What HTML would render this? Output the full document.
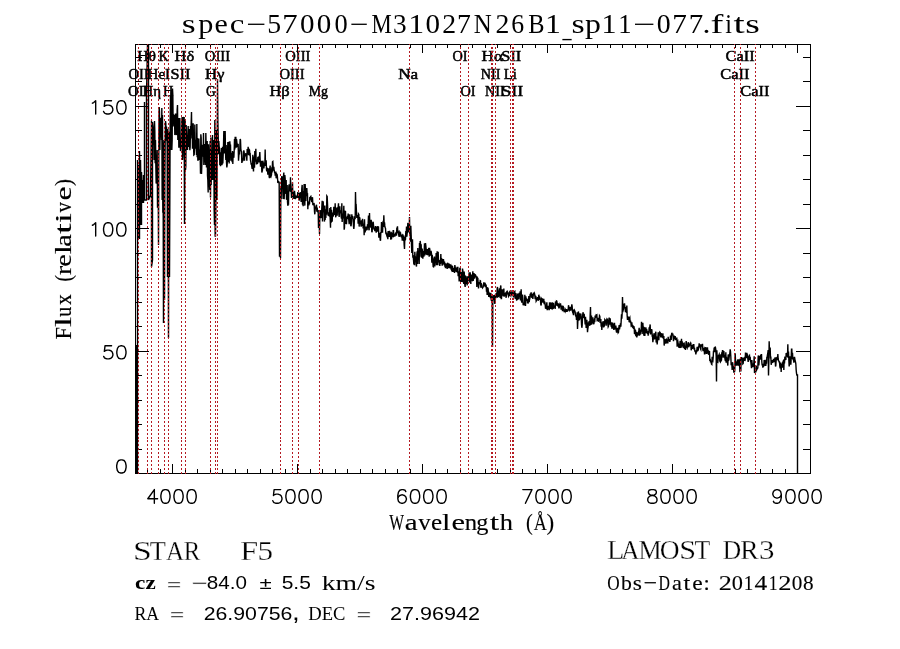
<!DOCTYPE html>
<html><head><meta charset="utf-8"><style>
html,body{margin:0;padding:0;background:#fff;width:900px;height:649px;overflow:hidden;position:relative}
</style></head><body>
<svg width="900" height="649" viewBox="0 0 900 649" style="position:absolute;left:0;top:0;will-change:transform">
<polyline points="136.50,473.0 136.50,345.0 137.50,473.0 137.50,160.0 138.50,239.0 138.50,165.0 139.50,239.0 139.50,151.0 140.50,225.0 140.50,160.0 141.50,225.0 141.50,172.0 142.50,203.0 142.50,180.0 143.50,203.0 143.50,175.0 144.50,190.0 144.50,101.9 144.50,200.0 146.50,200.0 146.50,95.0 147.50,45.0 148.50,45.0 148.50,200.0 150.50,195.0 151.50,120.5 151.50,267.0 152.50,260.0 152.50,122.0 153.17,128.0 153.50,145.0 153.83,135.8 154.17,160.0 154.50,121.0 154.83,131.3 155.17,163.2 155.50,140.0 155.83,165.0 156.17,183.6 156.50,182.8 156.83,178.5 157.17,150.0 157.50,207.0 157.83,207.0 158.17,180.0 158.50,245.0 158.83,145.5 159.17,107.0 159.50,111.8 159.83,150.0 160.17,125.0 160.50,133.7 160.83,117.7 161.17,126.3 161.50,140.0 161.83,108.0 162.17,200.0 162.50,115.0 162.83,212.8 163.17,200.0 163.50,323.0 163.83,146.6 164.17,140.0 164.50,300.0 164.83,181.1 165.17,142.0 165.50,121.0 165.83,123.6 166.17,140.7 166.50,126.6 166.83,132.3 167.17,145.0 167.50,277.0 167.83,129.1 168.17,200.0 168.50,338.0 168.83,141.2 169.17,131.8 169.50,277.0 169.83,200.0 170.17,122.6 170.50,96.0 170.83,150.0 171.17,94.0 171.50,90.0 171.83,150.0 172.17,140.0 172.50,88.5 172.83,95.0 173.17,126.4 173.50,116.9 173.83,116.0 174.17,117.0 174.50,114.7 174.83,135.0 175.17,134.1 175.50,114.3 175.83,114.3 176.17,117.0 176.50,135.0 176.83,134.1 177.17,110.0 177.50,105.0 177.83,140.0 178.17,122.6 178.50,118.0 178.83,147.0 179.17,147.0 179.50,139.5 179.83,118.0 180.17,140.1 180.50,151.1 180.83,146.3 181.17,147.0 181.50,143.2 181.83,120.0 182.17,117.0 182.50,160.0 182.83,155.8 183.17,117.0 183.50,117.7 183.83,150.0 184.17,117.0 184.50,224.0 184.83,170.0 185.17,120.0 185.50,170.0 185.83,166.1 186.17,125.0 186.50,141.6 186.83,150.0 187.17,140.6 187.50,149.9 187.83,134.0 188.17,126.0 188.50,147.0 188.83,139.3 189.17,129.0 189.50,143.2 189.83,150.2 190.17,147.0 190.50,126.0 190.83,131.3 191.17,123.4 191.50,112.0 191.83,138.5 192.17,127.8 192.50,148.8 192.83,124.0 193.17,124.0 193.50,143.8 193.83,155.0 194.17,154.7 194.50,149.3 194.83,124.5 195.17,143.1 195.50,148.6 195.83,139.8 196.17,143.5 196.50,155.0 196.83,124.0 197.17,157.2 197.50,138.0 197.83,160.0 198.17,160.0 198.50,147.3 198.83,138.5 199.17,148.8 199.50,160.0 199.83,149.6 200.17,155.4 200.50,173.7 200.83,134.2 201.17,138.0 201.50,174.0 201.83,165.0 202.17,153.6 202.50,144.7 202.83,156.4 203.17,155.5 203.50,133.0 203.83,165.0 204.17,159.5 204.50,144.1 204.83,145.8 205.17,144.9 205.50,165.0 205.83,133.0 206.17,146.2 206.50,167.6 206.83,145.8 207.17,141.0 207.50,175.4 207.83,180.0 208.17,192.6 208.50,144.2 208.83,153.7 209.17,150.0 209.50,185.0 209.83,190.0 210.17,141.0 210.50,197.5 210.83,137.5 211.17,185.0 211.50,150.0 211.83,163.7 212.17,180.0 212.50,135.0 212.83,162.5 213.17,180.0 213.50,167.2 213.83,140.0 214.17,210.0 214.50,225.0 214.83,120.0 215.17,236.0 215.50,236.0 215.83,214.6 216.17,130.0 216.50,168.6 216.83,200.0 217.17,155.0 217.50,79.0 217.83,120.0 218.17,134.7 218.50,154.2 218.83,141.1 219.17,146.6 219.50,148.0 219.83,165.0 220.17,163.1 220.50,166.3 220.83,152.3 221.17,155.4 221.50,148.0 221.83,165.0 222.17,163.7 222.50,146.8 222.83,163.5 223.17,155.0 223.50,145.7 223.83,131.0 224.17,153.5 224.50,145.1 224.83,137.1 225.17,131.0 225.50,151.8 225.83,160.0 226.17,145.0 226.50,162.1 226.83,167.4 227.17,165.0 227.50,156.1 227.83,142.0 228.17,162.0 228.50,155.2 228.83,141.8 229.17,163.6 229.50,153.7 229.83,141.2 230.17,146.6 230.50,144.5 230.83,160.7 231.17,158.7 231.50,152.9 231.83,155.0 232.17,162.1 232.50,151.0 232.83,164.0 233.17,151.8 233.50,156.2 233.83,157.8 234.17,151.0 234.50,139.0 234.83,149.4 235.17,137.5 235.50,137.5 235.83,137.5 236.17,147.8 236.50,139.0 236.83,142.1 237.17,146.2 237.50,147.1 237.83,144.3 238.17,144.5 238.50,160.7 238.83,156.1 239.17,151.5 239.50,154.5 239.83,148.6 240.17,139.0 240.50,139.8 240.83,148.8 241.17,151.0 241.50,151.5 241.83,162.9 242.17,161.7 242.50,158.3 242.83,161.2 243.17,158.3 243.50,152.0 243.83,150.3 244.17,152.0 244.50,160.7 244.83,154.8 245.17,154.5 245.50,154.4 245.83,153.3 246.17,156.5 246.50,155.3 246.83,160.7 247.17,148.9 247.50,153.3 247.83,151.4 248.17,146.7 248.50,155.3 248.83,150.3 249.17,149.6 249.50,150.1 249.83,154.5 250.17,154.2 250.50,160.2 250.83,161.8 251.17,164.7 251.50,163.1 251.83,166.9 252.17,168.9 252.50,167.1 252.83,154.8 253.17,167.4 253.50,171.5 253.83,157.5 254.17,156.5 254.50,167.8 254.83,151.1 255.17,155.7 255.50,161.8 255.83,148.8 256.17,160.5 256.50,164.4 256.83,159.5 257.17,162.7 257.50,164.0 257.83,157.5 258.17,157.3 258.50,159.2 258.83,161.8 259.17,161.8 259.50,156.3 259.83,152.0 260.17,159.7 260.50,166.6 260.83,164.7 261.17,162.6 261.50,160.7 261.83,172.6 262.17,171.4 262.50,170.0 262.83,160.7 263.17,162.9 263.50,167.1 263.83,168.3 264.17,165.9 264.50,162.6 264.83,164.5 265.17,149.4 265.50,166.0 265.83,161.5 266.17,160.3 266.50,169.8 266.83,171.4 267.17,168.3 267.50,168.7 267.83,174.7 268.17,172.5 268.50,170.8 268.83,168.4 269.17,176.9 269.50,178.2 269.83,168.3 270.17,165.5 270.50,176.6 270.83,177.0 271.17,175.8 271.50,174.9 271.83,167.2 272.17,172.6 272.50,161.8 272.83,161.5 273.17,167.6 273.50,170.7 273.83,166.9 274.17,170.5 274.50,172.3 274.83,172.7 275.17,174.7 275.50,174.3 275.83,171.5 276.17,178.2 276.50,177.0 276.83,174.2 277.17,174.7 277.50,177.9 277.83,183.0 278.17,182.2 278.50,181.8 278.83,182.6 279.17,182.5 279.50,256.8 279.83,190.0 280.17,196.3 280.50,258.3 280.83,186.7 281.17,199.0 281.50,178.9 281.83,176.0 282.17,183.6 282.50,176.7 282.83,191.9 283.17,199.0 283.50,176.0 283.83,172.6 284.17,199.3 284.50,187.9 284.83,175.0 285.17,178.6 285.50,190.6 285.83,194.0 286.17,180.0 286.50,199.0 286.83,199.2 287.17,185.0 287.50,201.9 287.83,205.8 288.17,203.1 288.50,203.4 288.83,186.0 289.17,184.4 289.50,191.4 289.83,186.1 290.17,191.5 290.50,177.3 290.83,192.0 291.17,188.6 291.50,197.2 291.83,197.2 292.17,191.1 292.50,182.2 292.83,197.0 293.17,192.1 293.50,196.4 293.83,198.2 294.17,198.2 294.50,190.8 294.83,194.1 295.17,195.5 295.50,198.3 295.83,198.0 296.17,195.5 296.50,197.1 296.83,196.7 297.17,197.0 297.50,195.0 297.83,192.0 298.17,197.9 298.50,193.8 298.83,193.8 299.17,200.7 299.50,195.8 299.83,195.9 300.17,192.2 300.50,193.3 300.83,198.0 301.17,201.9 301.50,196.0 301.83,188.4 302.17,184.9 302.50,204.8 302.83,201.6 303.17,206.2 303.50,191.1 303.83,192.3 304.17,184.0 304.50,198.2 304.83,205.6 305.17,184.0 305.50,192.5 305.83,201.1 306.17,188.6 306.50,188.6 306.83,188.6 307.17,194.8 307.50,194.5 307.83,209.3 308.17,201.6 308.50,204.2 308.83,205.3 309.17,203.2 309.50,204.1 309.83,197.0 310.17,198.3 310.50,196.9 310.83,196.5 311.17,199.5 311.50,200.5 311.83,202.2 312.17,198.2 312.50,197.3 312.83,204.4 313.17,204.3 313.50,204.0 313.83,204.8 314.17,204.4 314.50,211.4 314.83,214.3 315.17,209.3 315.50,206.6 315.83,207.7 316.17,205.6 316.50,204.8 316.83,211.8 317.17,207.6 317.50,210.9 317.83,211.8 318.17,210.0 318.50,228.0 318.83,216.0 319.17,214.8 319.50,234.0 319.83,214.3 320.17,210.0 320.50,212.6 320.83,218.0 321.17,217.2 321.50,215.8 321.83,207.5 322.17,200.7 322.50,221.6 322.83,201.9 323.17,201.2 323.50,208.2 323.83,207.3 324.17,212.9 324.50,221.6 324.83,205.6 325.17,220.0 325.50,210.6 325.83,217.9 326.17,209.2 326.50,214.8 326.83,195.9 327.17,196.4 327.50,203.3 327.83,211.8 328.17,215.6 328.50,212.3 328.83,215.6 329.17,215.8 329.50,215.5 329.83,208.1 330.17,218.4 330.50,227.8 330.83,206.9 331.17,222.7 331.50,209.8 331.83,215.8 332.17,221.7 332.50,214.6 332.83,213.8 333.17,216.7 333.50,213.5 333.83,206.9 334.17,210.7 334.50,213.5 334.83,214.9 335.17,203.2 335.50,215.5 335.83,217.3 336.17,211.5 336.50,211.3 336.83,207.5 337.17,215.7 337.50,207.3 337.83,211.9 338.17,207.2 338.50,203.2 338.83,214.3 339.17,217.0 339.50,211.5 339.83,206.2 340.17,213.2 340.50,210.4 340.83,211.5 341.17,216.7 341.50,218.7 341.83,203.2 342.17,222.0 342.50,215.4 342.83,218.5 343.17,213.6 343.50,215.1 343.83,205.8 344.17,229.7 344.50,227.8 344.83,210.6 345.17,211.8 345.50,211.8 345.83,223.9 346.17,219.6 346.50,224.1 346.83,216.7 347.17,219.2 347.50,215.8 347.83,218.8 348.17,213.6 348.50,217.5 348.83,220.2 349.17,224.1 349.50,218.9 349.83,214.3 350.17,219.0 350.50,217.1 350.83,226.2 351.17,225.4 351.50,221.1 351.83,214.3 352.17,217.8 352.50,216.1 352.83,218.4 353.17,219.2 353.50,226.5 353.83,229.0 354.17,225.7 354.50,216.3 354.83,217.4 355.17,219.2 355.50,192.0 355.83,206.0 356.17,205.6 356.50,212.5 356.83,218.0 357.17,215.2 357.50,217.4 357.83,216.5 358.17,223.6 358.50,214.0 358.83,214.5 359.17,226.6 359.50,217.8 359.83,218.0 360.17,223.7 360.50,221.1 360.83,224.5 361.17,226.6 361.50,220.4 361.83,225.4 362.17,225.4 362.50,218.7 362.83,223.0 363.17,228.5 363.50,223.7 363.83,225.0 364.17,235.2 364.50,219.2 364.83,230.4 365.17,232.4 365.50,227.2 365.83,227.9 366.17,226.6 366.50,229.0 366.83,229.8 367.17,229.5 367.50,224.4 367.83,225.2 368.17,223.4 368.50,215.5 368.83,229.3 369.17,230.3 369.50,213.0 369.83,224.2 370.17,223.7 370.50,226.6 370.83,227.0 371.17,219.8 371.50,223.2 371.83,232.2 372.17,231.5 372.50,223.0 372.83,222.9 373.17,221.7 373.50,225.0 373.83,229.0 374.17,229.3 374.50,228.1 374.83,231.1 375.17,228.0 375.50,226.2 375.83,229.2 376.17,232.7 376.50,227.4 376.83,226.6 377.17,230.3 377.50,231.6 377.83,226.1 378.17,229.3 378.50,226.6 378.83,237.7 379.17,234.4 379.50,234.1 379.83,232.9 380.17,239.9 380.50,240.6 380.83,232.0 381.17,233.2 381.50,222.0 381.83,227.2 382.17,228.9 382.50,232.6 382.83,225.5 383.17,220.8 383.50,227.0 383.83,215.3 384.17,223.8 384.50,222.3 384.83,225.9 385.17,227.8 385.50,228.2 385.83,233.2 386.17,234.3 386.50,232.6 386.83,235.9 387.17,236.7 387.50,234.4 387.83,239.3 388.17,231.1 388.50,232.0 388.83,234.0 389.17,236.9 389.50,230.7 389.83,234.7 390.17,233.3 390.50,235.5 390.83,239.6 391.17,231.9 391.50,239.3 391.83,234.9 392.17,234.1 392.50,234.7 392.83,237.1 393.17,230.7 393.50,230.7 393.83,235.6 394.17,235.0 394.50,235.1 394.83,236.6 395.17,234.1 395.50,233.5 395.83,235.5 396.17,234.2 396.50,235.6 396.83,228.2 397.17,227.9 397.50,226.4 397.83,233.2 398.17,230.6 398.50,233.7 398.83,235.4 399.17,236.9 399.50,234.1 399.83,231.9 400.17,232.5 400.50,232.7 400.83,236.2 401.17,236.6 401.50,236.5 401.83,235.8 402.17,239.3 402.50,238.9 402.83,234.4 403.17,241.0 403.50,239.1 403.83,235.6 404.17,245.0 404.50,249.0 404.83,236.9 405.17,240.4 405.50,239.3 405.83,231.1 406.17,236.9 406.50,226.4 406.83,236.8 407.17,233.3 407.50,230.6 407.83,222.9 408.17,232.5 408.50,230.5 408.83,228.0 409.17,230.5 409.50,217.0 409.83,235.6 410.17,232.7 410.50,241.8 410.83,225.8 411.17,235.1 411.50,245.0 411.83,253.0 412.17,249.1 412.50,239.3 412.83,257.8 413.17,255.1 413.50,259.7 413.83,264.5 414.17,261.3 414.50,265.2 414.83,251.7 415.17,258.2 415.50,257.2 415.83,258.1 416.17,264.6 416.50,266.6 416.83,254.9 417.17,251.4 417.50,264.0 417.83,248.0 418.17,256.3 418.50,259.9 418.83,253.8 419.17,264.0 419.50,243.0 419.83,256.7 420.17,240.9 420.50,243.4 420.83,245.3 421.17,244.3 421.50,257.8 421.83,252.7 422.17,248.6 422.50,253.0 422.83,258.8 423.17,251.8 423.50,252.1 423.83,256.7 424.17,251.7 424.50,243.4 424.83,255.3 425.17,252.9 425.50,243.0 425.83,245.8 426.17,249.2 426.50,254.1 426.83,254.3 427.17,251.9 427.50,249.0 427.83,251.2 428.17,255.3 428.50,249.4 428.83,247.9 429.17,256.6 429.50,248.0 429.83,249.6 430.17,251.8 430.50,255.8 430.83,251.9 431.17,251.7 431.50,253.7 431.83,262.7 432.17,254.8 432.50,257.4 432.83,261.7 433.17,266.6 433.50,266.8 433.83,258.5 434.17,259.2 434.50,256.6 434.83,266.5 435.17,258.8 435.50,259.7 435.83,262.7 436.17,252.9 436.50,265.2 436.83,259.1 437.17,251.4 437.50,258.3 437.83,265.2 438.17,251.8 438.50,260.9 438.83,260.7 439.17,261.7 439.50,261.9 439.83,265.9 440.17,260.0 440.50,264.0 440.83,254.1 441.17,262.8 441.50,258.1 441.83,259.3 442.17,265.6 442.50,264.0 442.83,261.8 443.17,259.6 443.50,259.6 443.83,262.3 444.17,265.2 444.50,261.5 444.83,265.3 445.17,264.8 445.50,268.1 445.83,264.4 446.17,263.5 446.50,266.9 446.83,265.7 447.17,268.9 447.50,262.7 447.83,264.6 448.17,267.5 448.50,267.5 448.83,263.3 449.17,266.9 449.50,267.2 449.83,264.1 450.17,268.4 450.50,266.8 450.83,266.1 451.17,269.4 451.50,270.0 451.83,265.2 452.17,269.0 452.50,266.0 452.83,272.0 453.17,268.4 453.50,271.7 453.83,267.7 454.17,270.9 454.50,272.9 454.83,265.1 455.17,267.1 455.50,270.1 455.83,269.4 456.17,267.7 456.50,272.0 456.83,271.2 457.17,266.9 457.50,272.8 457.83,266.9 458.17,276.1 458.50,271.4 458.83,273.2 459.17,281.5 459.50,277.2 459.83,267.7 460.17,268.5 460.50,279.8 460.83,282.0 461.17,272.1 461.50,279.5 461.83,279.5 462.17,282.0 462.50,268.5 462.83,270.8 463.17,281.0 463.50,282.5 463.83,283.9 464.17,271.6 464.50,276.7 464.83,285.0 465.17,286.9 465.50,276.2 465.83,276.4 466.17,279.3 466.50,284.0 466.83,278.9 467.17,285.4 467.50,276.2 467.83,281.3 468.17,277.9 468.50,280.2 468.83,277.1 469.17,272.3 469.50,282.4 469.83,281.6 470.17,272.3 470.50,278.5 470.83,283.9 471.17,274.6 471.50,276.3 471.83,280.0 472.17,280.3 472.50,276.9 472.83,271.3 473.17,280.8 473.50,278.9 473.83,273.1 474.17,277.0 474.50,278.6 474.83,276.5 475.17,274.7 475.50,274.9 475.83,275.6 476.17,277.3 476.50,276.2 476.83,287.0 477.17,276.5 477.50,283.4 477.83,277.9 478.17,283.3 478.50,288.5 478.83,285.5 479.17,282.0 479.50,283.5 479.83,284.3 480.17,280.8 480.50,281.0 480.83,287.8 481.17,283.1 481.50,284.3 481.83,286.4 482.17,287.3 482.50,287.9 482.83,287.2 483.17,287.0 483.50,284.6 483.83,282.4 484.17,285.3 484.50,285.6 484.83,282.5 485.17,285.6 485.50,287.0 485.83,284.8 486.17,285.4 486.50,291.6 486.83,288.4 487.17,295.0 487.50,287.2 487.83,289.4 488.17,289.2 488.50,294.5 488.83,297.0 489.17,293.1 489.50,293.8 489.83,296.2 490.17,296.2 490.50,298.0 490.83,292.8 491.17,299.6 491.50,300.8 491.83,296.2 492.17,296.0 492.50,347.0 492.83,298.4 493.17,300.1 493.50,298.2 493.83,295.0 494.17,296.2 494.50,300.3 494.83,303.9 495.17,294.5 495.50,295.8 495.83,298.3 496.17,293.1 496.50,296.1 496.83,296.4 497.17,288.7 497.50,287.0 497.83,293.1 498.17,296.6 498.50,296.3 498.83,295.8 499.17,290.8 499.50,288.4 499.83,294.8 500.17,297.8 500.50,287.0 500.83,285.4 501.17,298.5 501.50,298.5 501.83,291.3 502.17,289.3 502.50,292.3 502.83,289.5 503.17,296.2 503.50,293.2 503.83,288.5 504.17,296.6 504.50,292.9 504.83,294.1 505.17,294.8 505.50,293.9 505.83,295.4 506.17,297.8 506.50,293.1 506.83,291.6 507.17,291.2 507.50,291.9 507.83,294.1 508.17,294.7 508.50,296.3 508.83,295.6 509.17,292.7 509.50,292.2 509.83,296.2 510.17,292.1 510.50,294.6 510.83,295.4 511.17,293.2 511.50,292.6 511.83,295.4 512.17,290.0 512.50,294.6 512.83,294.7 513.17,294.7 513.50,297.4 513.83,293.1 514.17,293.4 514.50,291.9 514.83,291.5 515.17,298.8 515.50,297.8 515.83,293.1 516.17,297.9 516.50,299.7 516.83,299.3 517.17,300.3 517.50,294.2 517.83,294.1 518.17,294.7 518.50,299.3 518.83,298.5 519.17,294.3 519.50,294.7 519.83,293.9 520.17,291.3 520.50,300.5 520.83,294.7 521.17,289.3 521.50,300.8 521.83,302.5 522.17,300.4 522.50,294.6 522.83,298.0 523.17,305.3 523.50,303.4 523.83,305.3 524.17,302.7 524.50,305.5 524.83,294.7 525.17,302.0 525.50,306.0 525.83,296.3 526.17,299.5 526.50,300.9 526.83,299.0 527.17,299.3 527.50,302.6 527.83,302.4 528.17,302.7 528.50,301.5 528.83,296.1 529.17,302.2 529.50,299.7 529.83,298.6 530.17,293.8 530.50,295.7 530.83,293.5 531.17,292.4 531.50,297.8 531.83,295.5 532.17,296.6 532.50,293.7 532.83,299.0 533.17,295.6 533.50,292.5 533.83,294.7 534.17,294.5 534.50,293.6 534.83,295.1 535.17,299.3 535.50,296.2 535.83,296.4 536.17,301.2 536.50,300.6 536.83,298.2 537.17,298.2 537.50,297.6 537.83,297.6 538.17,300.8 538.50,298.1 538.83,294.7 539.17,297.8 539.50,296.3 539.83,300.0 540.17,299.2 540.50,300.6 540.83,304.6 541.17,305.5 541.50,298.7 541.83,299.3 542.17,298.9 542.50,298.9 542.83,302.6 543.17,301.5 543.50,299.4 543.83,299.4 544.17,304.3 544.50,301.9 544.83,302.2 545.17,304.7 545.50,308.1 545.83,308.2 546.17,307.0 546.50,306.3 546.83,302.4 547.17,309.5 547.50,309.5 547.83,305.9 548.17,307.7 548.50,307.5 548.83,306.8 549.17,310.1 549.50,303.9 549.83,304.3 550.17,302.3 550.50,308.3 550.83,308.2 551.17,302.8 551.50,308.4 551.83,308.7 552.17,302.4 552.50,307.0 552.83,308.0 553.17,309.0 553.50,302.9 553.83,305.8 554.17,306.8 554.50,306.4 554.83,306.2 555.17,308.9 555.50,302.1 555.83,302.2 556.17,305.6 556.50,301.0 556.83,301.2 557.17,305.0 557.50,305.5 557.83,305.1 558.17,303.9 558.50,304.1 558.83,307.8 559.17,307.8 559.50,306.2 559.83,304.6 560.17,305.6 560.50,303.3 560.83,306.1 561.17,309.6 561.50,306.4 561.83,308.4 562.17,305.6 562.50,311.1 562.83,309.5 563.17,305.7 563.50,310.2 563.83,307.3 564.17,312.2 564.50,310.0 564.83,310.4 565.17,311.3 565.50,310.0 565.83,311.2 566.17,309.1 566.50,311.9 566.83,310.9 567.17,311.0 567.50,309.4 567.83,311.1 568.17,309.8 568.50,305.2 568.83,308.2 569.17,309.3 569.50,310.0 569.83,306.7 570.17,310.5 570.50,307.5 570.83,310.8 571.17,306.9 571.50,307.8 571.83,304.4 572.17,306.5 572.50,311.7 572.83,312.7 573.17,313.3 573.50,315.1 573.83,310.0 574.17,309.7 574.50,310.7 574.83,310.9 575.17,312.2 575.50,315.1 575.83,316.7 576.17,315.6 576.50,320.0 576.83,317.5 577.17,312.2 577.50,329.0 577.83,322.0 578.17,315.7 578.50,311.4 578.83,320.7 579.17,317.9 579.50,320.0 579.83,313.3 580.17,316.5 580.50,318.6 580.83,313.6 581.17,316.7 581.50,324.4 581.83,327.8 582.17,325.5 582.50,317.9 582.83,313.7 583.17,312.2 583.50,317.8 583.83,316.3 584.17,313.7 584.50,318.2 584.83,319.6 585.17,324.4 585.50,316.7 585.83,321.4 586.17,327.9 586.50,323.9 586.83,319.9 587.17,324.4 587.50,332.2 587.83,328.8 588.17,326.7 588.50,322.2 588.83,324.0 589.17,321.0 589.50,323.2 589.83,325.8 590.17,315.0 590.50,307.0 590.83,323.3 591.17,324.8 591.50,315.6 591.83,324.4 592.17,321.4 592.50,320.5 592.83,317.3 593.17,320.0 593.50,323.3 593.83,324.2 594.17,321.8 594.50,319.9 594.83,320.4 595.17,315.6 595.50,317.8 595.83,316.1 596.17,314.8 596.50,315.0 596.83,314.8 597.17,320.3 597.50,320.0 597.83,317.8 598.17,320.6 598.50,321.8 598.83,318.2 599.17,320.0 599.50,315.7 599.83,316.2 600.17,323.0 600.50,321.9 600.83,319.0 601.17,326.7 601.50,324.4 601.83,330.0 602.17,323.1 602.50,323.3 602.83,322.9 603.17,321.1 603.50,326.7 603.83,326.7 604.17,326.1 604.50,325.1 604.83,319.8 605.17,320.4 605.50,320.6 605.83,319.5 606.17,325.6 606.50,320.6 606.83,319.4 607.17,320.2 607.50,319.8 607.83,324.2 608.17,326.7 608.50,326.0 608.83,322.2 609.17,317.6 609.50,320.8 609.83,324.6 610.17,318.3 610.50,323.3 610.83,322.2 611.17,326.7 611.50,322.2 611.83,327.3 612.17,328.8 612.50,322.6 612.83,323.8 613.17,324.4 613.50,325.7 613.83,330.0 614.17,324.3 614.50,322.9 614.83,329.2 615.17,328.4 615.50,327.8 615.83,325.6 616.17,330.3 616.50,332.1 616.83,332.1 617.17,329.5 617.50,330.0 617.83,327.8 618.17,332.7 618.50,332.2 618.83,327.8 619.17,325.0 619.50,329.3 619.83,327.3 620.17,326.4 620.50,323.3 620.83,326.7 621.17,321.1 621.50,314.4 621.83,318.8 622.17,313.3 622.50,297.0 622.83,309.1 623.17,310.2 623.50,308.9 623.83,304.4 624.17,304.5 624.50,303.4 624.83,306.8 625.17,309.2 625.50,312.2 625.83,307.1 626.17,311.9 626.50,312.2 626.83,305.6 627.17,315.6 627.50,320.0 627.83,316.3 628.17,317.9 628.50,319.8 628.83,316.9 629.17,322.2 629.50,318.5 629.83,317.8 630.17,322.7 630.50,320.6 630.83,322.3 631.17,325.6 631.50,325.1 631.83,322.2 632.17,327.1 632.50,324.7 632.83,327.9 633.17,325.6 633.50,328.9 633.83,326.1 634.17,327.5 634.50,333.9 634.83,328.8 635.17,334.4 635.50,330.0 635.83,336.1 636.17,331.9 636.50,336.2 636.83,337.3 637.17,334.8 637.50,332.2 637.83,335.6 638.17,334.2 638.50,332.0 638.83,330.7 639.17,327.8 639.50,335.6 639.83,332.7 640.17,334.7 640.50,329.6 640.83,331.1 641.17,331.1 641.50,321.7 641.83,330.1 642.17,334.1 642.50,324.7 642.83,322.9 643.17,327.8 643.50,326.6 643.83,335.6 644.17,327.1 644.50,331.7 644.83,336.0 645.17,328.1 645.50,329.5 645.83,327.4 646.17,333.3 646.50,328.9 646.83,329.9 647.17,332.3 647.50,333.9 647.83,332.0 648.17,335.6 648.50,331.1 648.83,333.2 649.17,327.3 649.50,330.3 649.83,326.5 650.17,324.4 650.50,334.4 650.83,331.7 651.17,329.0 651.50,333.0 651.83,329.4 652.17,335.6 652.50,335.4 652.83,342.2 653.17,339.4 653.50,338.2 653.83,335.6 654.17,333.2 654.50,339.4 654.83,338.3 655.17,337.8 655.50,333.3 655.83,331.7 656.17,342.6 656.50,336.7 656.83,337.9 657.17,344.4 657.50,340.7 657.83,337.8 658.17,332.9 658.50,332.9 658.83,340.2 659.17,332.9 659.50,335.6 659.83,332.2 660.17,332.6 660.50,334.7 660.83,337.4 661.17,333.0 661.50,336.1 661.83,336.5 662.17,334.0 662.50,337.8 662.83,333.3 663.17,337.0 663.50,338.9 663.83,335.9 664.17,345.6 664.50,339.7 664.83,340.0 665.17,339.9 665.50,343.6 665.83,341.6 666.17,343.3 666.50,339.5 666.83,340.0 667.17,343.3 667.50,342.3 667.83,343.4 668.17,336.7 668.50,341.1 668.83,340.1 669.17,340.6 669.50,339.2 669.83,342.0 670.17,340.0 670.50,335.5 670.83,336.7 671.17,340.0 671.50,334.7 671.83,332.8 672.17,334.0 672.50,335.3 672.83,333.6 673.17,337.5 673.50,341.1 673.83,337.3 674.17,335.7 674.50,338.1 674.83,337.4 675.17,336.1 675.50,338.7 675.83,340.0 676.17,337.7 676.50,339.0 676.83,338.7 677.17,346.7 677.50,342.2 677.83,341.4 678.17,343.7 678.50,344.0 678.83,347.7 679.17,345.6 679.50,347.8 679.83,344.4 680.17,340.9 680.50,346.9 680.83,346.6 681.17,347.8 681.50,338.9 681.83,345.7 682.17,341.3 682.50,346.4 682.83,343.4 683.17,347.8 683.50,346.5 683.83,343.3 684.17,343.2 684.50,349.0 684.83,347.3 685.17,346.8 685.50,350.0 685.83,345.6 686.17,341.1 686.50,343.6 686.83,346.7 687.17,347.5 687.50,344.9 687.83,347.5 688.17,342.2 688.50,344.4 688.83,347.2 689.17,345.6 689.50,344.9 689.83,344.0 690.17,343.3 690.50,345.6 690.83,342.5 691.17,350.2 691.50,349.0 691.83,345.9 692.17,345.6 692.50,348.9 692.83,345.7 693.17,345.2 693.50,344.7 693.83,344.7 694.17,349.8 694.50,347.8 694.83,351.1 695.17,351.6 695.50,350.4 695.83,354.4 696.17,352.2 696.50,352.0 696.83,350.0 697.17,346.7 697.50,351.3 697.83,348.9 698.17,350.7 698.50,347.0 698.83,347.0 699.17,343.2 699.50,346.7 699.83,344.4 700.17,346.1 700.50,348.7 700.83,349.4 701.17,344.4 701.50,346.7 701.83,344.4 702.17,345.4 702.50,343.9 702.83,349.7 703.17,351.1 703.50,349.6 703.83,348.9 704.17,348.4 704.50,353.9 704.83,353.9 705.17,351.1 705.50,348.9 705.83,347.0 706.17,352.3 706.50,353.9 706.83,350.5 707.17,348.3 707.50,348.1 707.83,351.1 708.17,354.2 708.50,350.4 708.83,355.0 709.17,352.2 709.50,350.9 709.83,361.1 710.17,358.8 710.50,362.4 710.83,361.4 711.17,362.2 711.50,364.1 711.83,364.4 712.17,356.7 712.50,361.1 712.83,361.4 713.17,357.6 713.50,350.9 713.83,351.7 714.17,347.6 714.50,352.2 714.83,346.7 715.17,348.4 715.50,347.8 715.83,349.9 716.17,356.0 716.50,381.6 716.83,350.2 717.17,356.7 717.50,362.2 717.83,362.4 718.17,358.8 718.50,355.5 718.83,355.2 719.17,354.4 719.50,357.2 719.83,361.1 720.17,361.7 720.50,359.3 720.83,354.2 721.17,360.6 721.50,360.0 721.83,352.2 722.17,353.4 722.50,350.6 722.83,350.6 723.17,357.8 723.50,352.5 723.83,351.1 724.17,354.8 724.50,356.2 724.83,357.9 725.17,360.1 725.50,361.1 725.83,352.2 726.17,362.7 726.50,356.8 726.83,361.3 727.17,357.8 727.50,362.9 727.83,365.6 728.17,354.4 728.50,360.4 728.83,360.0 729.17,357.1 729.50,354.6 729.83,353.3 730.17,349.4 730.50,351.6 730.83,356.7 731.17,365.3 731.50,364.0 731.83,364.1 732.17,370.0 732.50,362.2 732.83,364.1 733.17,369.1 733.50,366.3 733.83,372.6 734.17,370.6 734.50,372.2 734.83,370.0 735.17,353.3 735.50,360.3 735.83,365.6 736.17,363.8 736.50,363.0 736.83,362.3 737.17,365.6 737.50,360.3 737.83,359.5 738.17,364.2 738.50,364.7 738.83,363.3 739.17,359.9 739.50,360.0 739.83,370.5 740.17,370.0 740.50,358.0 740.83,371.6 741.17,358.1 741.50,357.1 741.83,358.9 742.17,358.4 742.50,358.7 742.83,363.8 743.17,363.4 743.50,358.8 743.83,359.3 744.17,358.9 744.50,358.2 744.83,360.9 745.17,360.0 745.50,352.5 745.83,356.0 746.17,356.3 746.50,358.0 746.83,352.8 747.17,354.9 747.50,354.9 747.83,359.0 748.17,362.0 748.50,360.1 748.83,357.4 749.17,356.0 749.50,355.5 749.83,360.0 750.17,356.7 750.50,361.1 750.83,362.0 751.17,364.8 751.50,368.3 751.83,360.0 752.17,364.0 752.50,364.4 752.83,367.0 753.17,365.2 753.50,363.8 753.83,363.4 754.17,356.3 754.50,373.0 754.83,371.8 755.17,369.1 755.50,371.7 755.83,371.7 756.17,365.5 756.50,368.4 756.83,369.4 757.17,368.5 757.50,368.5 757.83,367.8 758.17,356.8 758.50,355.5 758.83,365.5 759.17,361.8 759.50,356.1 759.83,357.0 760.17,356.3 760.50,358.1 760.83,359.7 761.17,357.3 761.50,354.0 761.83,362.0 762.17,365.5 762.50,363.8 762.83,367.7 763.17,366.0 763.50,366.3 763.83,366.0 764.17,360.0 764.50,363.9 764.83,365.5 765.17,359.9 765.50,365.3 765.83,365.3 766.17,362.0 766.50,363.6 766.83,357.4 767.17,357.2 767.50,354.6 767.83,352.8 768.17,350.0 768.50,375.5 768.83,362.0 769.17,341.2 769.50,352.5 769.83,354.2 770.17,347.5 770.50,358.4 770.83,356.5 771.17,364.8 771.50,363.2 771.83,362.0 772.17,360.0 772.50,362.2 772.83,362.3 773.17,361.8 773.50,358.9 773.83,360.4 774.17,360.2 774.50,362.0 774.83,358.4 775.17,357.4 775.50,366.5 775.83,365.7 776.17,359.6 776.50,358.1 776.83,358.5 777.17,358.7 777.50,360.0 777.83,354.0 778.17,358.7 778.50,360.7 778.83,360.9 779.17,362.0 779.50,362.0 779.83,366.5 780.17,368.5 780.50,363.5 780.83,362.6 781.17,372.0 781.50,363.8 781.83,367.0 782.17,367.1 782.50,365.8 782.83,361.6 783.17,363.3 783.50,360.0 783.83,370.0 784.17,359.0 784.50,363.4 784.83,357.3 785.17,357.4 785.50,358.2 785.83,360.0 786.17,353.0 786.50,355.9 786.83,352.7 787.17,354.1 787.50,357.0 787.83,344.2 788.17,358.1 788.50,351.6 788.83,359.6 789.17,366.5 789.50,363.5 789.83,356.3 790.17,358.8 790.50,363.5 790.83,364.6 791.17,358.4 791.50,349.3 791.83,349.3 792.17,358.9 792.50,352.7 792.83,358.2 793.17,360.0 793.50,357.4 793.83,362.6 794.17,360.3 794.50,356.8 794.83,358.8 795.17,361.0 795.50,362.0 795.83,363.8 796.17,370.0 796.50,373.1 796.83,375.0 797.50,375.0 797.50,473.0" fill="none" stroke="#000" stroke-width="1.4" />
<g stroke="#000" stroke-width="1" fill="none" shape-rendering="crispEdges">
<rect x="135.5" y="44.5" width="675" height="429"/>
<path d="M135.5 473V469M135.5 44V48M147.5 473V469M147.5 44V48M160.5 473V469M160.5 44V48M172.5 473V464M172.5 44V53M185.5 473V469M185.5 44V48M197.5 473V469M197.5 44V48M210.5 473V469M210.5 44V48M222.5 473V469M222.5 44V48M235.5 473V469M235.5 44V48M247.5 473V469M247.5 44V48M260.5 473V469M260.5 44V48M272.5 473V469M272.5 44V48M285.5 473V469M285.5 44V48M297.5 473V464M297.5 44V53M310.5 473V469M310.5 44V48M322.5 473V469M322.5 44V48M335.5 473V469M335.5 44V48M347.5 473V469M347.5 44V48M360.5 473V469M360.5 44V48M372.5 473V469M372.5 44V48M385.5 473V469M385.5 44V48M397.5 473V469M397.5 44V48M410.5 473V469M410.5 44V48M422.5 473V464M422.5 44V53M435.5 473V469M435.5 44V48M447.5 473V469M447.5 44V48M460.5 473V469M460.5 44V48M472.5 473V469M472.5 44V48M485.5 473V469M485.5 44V48M497.5 473V469M497.5 44V48M510.5 473V469M510.5 44V48M522.5 473V469M522.5 44V48M535.5 473V469M535.5 44V48M547.5 473V464M547.5 44V53M560.5 473V469M560.5 44V48M572.5 473V469M572.5 44V48M585.5 473V469M585.5 44V48M597.5 473V469M597.5 44V48M610.5 473V469M610.5 44V48M622.5 473V469M622.5 44V48M635.5 473V469M635.5 44V48M647.5 473V469M647.5 44V48M660.5 473V469M660.5 44V48M672.5 473V464M672.5 44V53M685.5 473V469M685.5 44V48M697.5 473V469M697.5 44V48M710.5 473V469M710.5 44V48M722.5 473V469M722.5 44V48M735.5 473V469M735.5 44V48M747.5 473V469M747.5 44V48M760.5 473V469M760.5 44V48M772.5 473V469M772.5 44V48M785.5 473V469M785.5 44V48M797.5 473V464M797.5 44V53M810.5 473V469M810.5 44V48M135 473.5H149M810 473.5H796M135 449.5H142M810 449.5H803M135 424.5H142M810 424.5H803M135 400.5H142M810 400.5H803M135 375.5H142M810 375.5H803M135 351.5H149M810 351.5H796M135 326.5H142M810 326.5H803M135 302.5H142M810 302.5H803M135 277.5H142M810 277.5H803M135 253.5H142M810 253.5H803M135 228.5H149M810 228.5H796M135 204.5H142M810 204.5H803M135 179.5H142M810 179.5H803M135 155.5H142M810 155.5H803M135 130.5H142M810 130.5H803M135 106.5H149M810 106.5H796M135 81.5H142M810 81.5H803M135 57.5H142M810 57.5H803"/>
</g>
<path d="M92.40 103.23L93.72 102.60L95.69 100.70L95.69 114.00M111.51 100.70L104.92 100.70L104.26 106.40L104.92 105.77L106.89 105.13L108.87 105.13L110.85 105.77L112.16 107.03L112.82 108.93L112.82 110.20L112.16 112.10L110.85 113.37L108.87 114.00L106.89 114.00L104.92 113.37L104.26 112.73L103.60 111.47M120.73 100.70L118.75 101.33L117.44 103.23L116.78 106.40L116.78 108.30L117.44 111.47L118.75 113.37L120.73 114.00L122.05 114.00L124.02 113.37L125.34 111.47L126.00 108.30L126.00 106.40L125.34 103.23L124.02 101.33L122.05 100.70L120.73 100.70M92.40 225.25L93.71 224.61L95.68 222.70L95.68 236.10M107.51 222.70L105.54 223.34L104.22 225.25L103.57 228.44L103.57 230.36L104.22 233.55L105.54 235.46L107.51 236.10L108.82 236.10L110.79 235.46L112.11 233.55L112.76 230.36L112.76 228.44L112.11 225.25L110.79 223.34L108.82 222.70L107.51 222.70M120.65 222.70L118.67 223.34L117.36 225.25L116.70 228.44L116.70 230.36L117.36 233.55L118.67 235.46L120.65 236.10L121.96 236.10L123.93 235.46L125.24 233.55L125.90 230.36L125.90 228.44L125.24 225.25L123.93 223.34L121.96 222.70L120.65 222.70M111.57 345.80L105.01 345.80L104.36 351.41L105.01 350.79L106.98 350.17L108.95 350.17L110.91 350.79L112.23 352.04L112.88 353.91L112.88 355.16L112.23 357.03L110.91 358.28L108.95 358.90L106.98 358.90L105.01 358.28L104.36 357.65L103.70 356.40M120.75 345.80L118.79 346.42L117.47 348.30L116.82 351.41L116.82 353.29L117.47 356.40L118.79 358.28L120.75 358.90L122.06 358.90L124.03 358.28L125.34 356.40L126.00 353.29L126.00 351.41L125.34 348.30L124.03 346.42L122.06 345.80L120.75 345.80M120.73 459.90L118.71 460.52L117.37 462.40L116.70 465.51L116.70 467.39L117.37 470.50L118.71 472.38L120.73 473.00L122.07 473.00L124.09 472.38L125.43 470.50L126.10 467.39L126.10 465.51L125.43 462.40L124.09 460.52L122.07 459.90L120.73 459.90M154.34 489.60L147.80 498.73L157.61 498.73M154.34 489.60L154.34 503.30M164.81 489.60L162.84 490.25L161.54 492.21L160.88 495.47L160.88 497.43L161.54 500.69L162.84 502.65L164.81 503.30L166.11 503.30L168.08 502.65L169.38 500.69L170.04 497.43L170.04 495.47L169.38 492.21L168.08 490.25L166.11 489.60L164.81 489.60M177.89 489.60L175.92 490.25L174.62 492.21L173.96 495.47L173.96 497.43L174.62 500.69L175.92 502.65L177.89 503.30L179.19 503.30L181.16 502.65L182.46 500.69L183.12 497.43L183.12 495.47L182.46 492.21L181.16 490.25L179.19 489.60L177.89 489.60M190.97 489.60L189.01 490.25L187.70 492.21L187.04 495.47L187.04 497.43L187.70 500.69L189.01 502.65L190.97 503.30L192.28 503.30L194.24 502.65L195.55 500.69L196.20 497.43L196.20 495.47L195.55 492.21L194.24 490.25L192.28 489.60L190.97 489.60M280.65 489.60L274.11 489.60L273.45 495.47L274.11 494.82L276.07 494.17L278.03 494.17L279.99 494.82L281.30 496.12L281.96 498.08L281.96 499.39L281.30 501.34L279.99 502.65L278.03 503.30L276.07 503.30L274.11 502.65L273.45 502.00L272.80 500.69M289.81 489.60L287.84 490.25L286.54 492.21L285.88 495.47L285.88 497.43L286.54 500.69L287.84 502.65L289.81 503.30L291.11 503.30L293.08 502.65L294.38 500.69L295.04 497.43L295.04 495.47L294.38 492.21L293.08 490.25L291.11 489.60L289.81 489.60M302.89 489.60L300.92 490.25L299.62 492.21L298.96 495.47L298.96 497.43L299.62 500.69L300.92 502.65L302.89 503.30L304.19 503.30L306.16 502.65L307.46 500.69L308.12 497.43L308.12 495.47L307.46 492.21L306.16 490.25L304.19 489.60L302.89 489.60M315.97 489.60L314.01 490.25L312.70 492.21L312.04 495.47L312.04 497.43L312.70 500.69L314.01 502.65L315.97 503.30L317.28 503.30L319.24 502.65L320.55 500.69L321.20 497.43L321.20 495.47L320.55 492.21L319.24 490.25L317.28 489.60L315.97 489.60M405.76 491.56L405.09 490.25L403.10 489.60L401.78 489.60L399.79 490.25L398.46 492.21L397.80 495.47L397.80 498.73L398.46 501.34L399.79 502.65L401.78 503.30L402.44 503.30L404.43 502.65L405.76 501.34L406.42 499.39L406.42 498.73L405.76 496.78L404.43 495.47L402.44 494.82L401.78 494.82L399.79 495.47L398.46 496.78L397.80 498.73M414.38 489.60L412.39 490.25L411.06 492.21L410.40 495.47L410.40 497.43L411.06 500.69L412.39 502.65L414.38 503.30L415.70 503.30L417.69 502.65L419.02 500.69L419.68 497.43L419.68 495.47L419.02 492.21L417.69 490.25L415.70 489.60L414.38 489.60M427.64 489.60L425.65 490.25L424.32 492.21L423.66 495.47L423.66 497.43L424.32 500.69L425.65 502.65L427.64 503.30L428.96 503.30L430.95 502.65L432.28 500.69L432.94 497.43L432.94 495.47L432.28 492.21L430.95 490.25L428.96 489.60L427.64 489.60M440.90 489.60L438.91 490.25L437.58 492.21L436.92 495.47L436.92 497.43L437.58 500.69L438.91 502.65L440.90 503.30L442.22 503.30L444.21 502.65L445.54 500.69L446.20 497.43L446.20 495.47L445.54 492.21L444.21 490.25L442.22 489.60L440.90 489.60M531.96 489.60L525.42 503.30M522.80 489.60L531.96 489.60M539.81 489.60L537.84 490.25L536.54 492.21L535.88 495.47L535.88 497.43L536.54 500.69L537.84 502.65L539.81 503.30L541.11 503.30L543.08 502.65L544.38 500.69L545.04 497.43L545.04 495.47L544.38 492.21L543.08 490.25L541.11 489.60L539.81 489.60M552.89 489.60L550.92 490.25L549.62 492.21L548.96 495.47L548.96 497.43L549.62 500.69L550.92 502.65L552.89 503.30L554.19 503.30L556.16 502.65L557.46 500.69L558.12 497.43L558.12 495.47L557.46 492.21L556.16 490.25L554.19 489.60L552.89 489.60M565.97 489.60L564.01 490.25L562.70 492.21L562.04 495.47L562.04 497.43L562.70 500.69L564.01 502.65L565.97 503.30L567.28 503.30L569.24 502.65L570.55 500.69L571.20 497.43L571.20 495.47L570.55 492.21L569.24 490.25L567.28 489.60L565.97 489.60M651.07 489.60L649.11 490.25L648.45 491.56L648.45 492.86L649.11 494.17L650.42 494.82L653.03 495.47L654.99 496.12L656.30 497.43L656.96 498.73L656.96 500.69L656.30 502.00L655.65 502.65L653.69 503.30L651.07 503.30L649.11 502.65L648.45 502.00L647.80 500.69L647.80 498.73L648.45 497.43L649.76 496.12L651.72 495.47L654.34 494.82L655.65 494.17L656.30 492.86L656.30 491.56L655.65 490.25L653.69 489.60L651.07 489.60M664.81 489.60L662.84 490.25L661.54 492.21L660.88 495.47L660.88 497.43L661.54 500.69L662.84 502.65L664.81 503.30L666.11 503.30L668.08 502.65L669.38 500.69L670.04 497.43L670.04 495.47L669.38 492.21L668.08 490.25L666.11 489.60L664.81 489.60M677.89 489.60L675.92 490.25L674.62 492.21L673.96 495.47L673.96 497.43L674.62 500.69L675.92 502.65L677.89 503.30L679.19 503.30L681.16 502.65L682.46 500.69L683.12 497.43L683.12 495.47L682.46 492.21L681.16 490.25L679.19 489.60L677.89 489.60M690.97 489.60L689.01 490.25L687.70 492.21L687.04 495.47L687.04 497.43L687.70 500.69L689.01 502.65L690.97 503.30L692.28 503.30L694.24 502.65L695.55 500.69L696.20 497.43L696.20 495.47L695.55 492.21L694.24 490.25L692.28 489.60L690.97 489.60M781.30 494.17L780.65 496.12L779.34 497.43L777.38 498.08L776.72 498.08L774.76 497.43L773.45 496.12L772.80 494.17L772.80 493.51L773.45 491.56L774.76 490.25L776.72 489.60L777.38 489.60L779.34 490.25L780.65 491.56L781.30 494.17L781.30 497.43L780.65 500.69L779.34 502.65L777.38 503.30L776.07 503.30L774.11 502.65L773.45 501.34M789.81 489.60L787.84 490.25L786.54 492.21L785.88 495.47L785.88 497.43L786.54 500.69L787.84 502.65L789.81 503.30L791.11 503.30L793.08 502.65L794.38 500.69L795.04 497.43L795.04 495.47L794.38 492.21L793.08 490.25L791.11 489.60L789.81 489.60M802.89 489.60L800.92 490.25L799.62 492.21L798.96 495.47L798.96 497.43L799.62 500.69L800.92 502.65L802.89 503.30L804.19 503.30L806.16 502.65L807.46 500.69L808.12 497.43L808.12 495.47L807.46 492.21L806.16 490.25L804.19 489.60L802.89 489.60M815.97 489.60L814.01 490.25L812.70 492.21L812.04 495.47L812.04 497.43L812.70 500.69L814.01 502.65L815.97 503.30L817.28 503.30L819.24 502.65L820.55 500.69L821.20 497.43L821.20 495.47L820.55 492.21L819.24 490.25L817.28 489.60L815.97 489.60" fill="none" stroke="#000" stroke-width="1.4" stroke-linecap="round" stroke-linejoin="round"/>
<g fill="#000">
<text x="100" y="200" font-family="Liberation Serif" font-weight="bold" font-size="100" transform="matrix(0.23214 0 0 0.19583 111.889 550.138)">cz</text>
<text x="100" y="200" font-family="Liberation Sans" font-weight="normal" stroke="#fff" stroke-width="2" font-size="100" transform="matrix(0.25000 0 0 0.16562 141.650 556.591)">=</text>
<text x="100" y="200" font-family="Liberation Sans" font-weight="normal" stroke="#fff" stroke-width="2" font-size="100" transform="matrix(0.27959 0 0 0.22857 163.543 545.743)">−</text>
<text x="100" y="200" font-family="Liberation Sans" font-weight="normal" font-size="100" transform="matrix(0.20642 0 0 0.18310 186.233 552.697)">84.0</text>
<text x="100" y="200" font-family="Liberation Sans" font-weight="normal" font-size="100" transform="matrix(0.22245 0 0 0.16833 237.188 555.833)">±</text>
<text x="100" y="200" font-family="Liberation Sans" font-weight="normal" font-size="100" transform="matrix(0.20992 0 0 0.18571 260.668 552.171)">5.5</text>
<text x="100" y="200" font-family="Liberation Serif" font-weight="normal" font-size="100" transform="matrix(0.27672 0 0 0.20714 294.075 548.864)">km/s</text>
<text x="100" y="200" font-family="Liberation Serif" font-weight="normal" font-size="100" transform="matrix(0.17778 0 0 0.19697 116.689 580.606)">RA</text>
<text x="100" y="200" font-family="Liberation Sans" font-weight="normal" stroke="#fff" stroke-width="2" font-size="100" transform="matrix(0.25000 0 0 0.16563 144.750 586.791)">=</text>
<text x="100" y="200" font-family="Liberation Sans" font-weight="normal" font-size="100" transform="matrix(0.21275 0 0 0.19014 182.462 581.982)">26.90756</text>
<text x="100" y="200" font-family="Liberation Sans" font-weight="normal" font-size="100" transform="matrix(0.28000 0 0 0.21250 264.080 577.337)">,</text>
<text x="100" y="200" font-family="Liberation Serif" font-weight="normal" font-size="100" transform="matrix(0.18586 0 0 0.19851 289.756 580.101)">DEC</text>
<text x="100" y="200" font-family="Liberation Sans" font-weight="normal" stroke="#fff" stroke-width="2" font-size="100" transform="matrix(0.25417 0 0 0.16563 331.113 586.791)">=</text>
<text x="100" y="200" font-family="Liberation Sans" font-weight="normal" font-size="100" transform="matrix(0.21572 0 0 0.18592 368.449 582.831)">27.96942</text>
<text x="100" y="200" font-family="Liberation Serif" font-weight="normal" stroke="#fff" stroke-width="1" font-size="100" transform="matrix(0.33810 0 0 0.27231 99.124 505.138)">S</text>
<text x="100" y="200" font-family="Liberation Serif" font-weight="normal" stroke="#fff" stroke-width="1" font-size="100" transform="matrix(0.26316 0 0 0.27231 123.458 505.138)">T</text>
<text x="100" y="200" font-family="Liberation Serif" font-weight="normal" stroke="#fff" stroke-width="1" font-size="100" transform="matrix(0.25000 0 0 0.27231 140.950 505.138)">A</text>
<text x="100" y="200" font-family="Liberation Serif" font-weight="normal" stroke="#fff" stroke-width="1" font-size="100" transform="matrix(0.24688 0 0 0.27231 159.072 505.138)">R</text>
<text x="100" y="200" font-family="Liberation Serif" font-weight="normal" stroke="#fff" stroke-width="1" font-size="100" transform="matrix(0.32245 0 0 0.27231 207.988 505.138)">F</text>
<text x="100" y="200" font-family="Liberation Serif" font-weight="normal" stroke="#fff" stroke-width="1" font-size="100" transform="matrix(0.31250 0 0 0.27231 226.375 505.138)">5</text>
<text x="100" y="200" font-family="Liberation Serif" font-weight="normal" stroke="#fff" stroke-width="1" font-size="100" transform="matrix(0.28269 0 0 0.26923 578.783 505.554)">L</text>
<text x="100" y="200" font-family="Liberation Serif" font-weight="normal" stroke="#fff" stroke-width="1" font-size="100" transform="matrix(0.25143 0 0 0.26923 596.206 505.554)">A</text>
<text x="100" y="200" font-family="Liberation Serif" font-weight="normal" stroke="#fff" stroke-width="1" font-size="100" transform="matrix(0.26024 0 0 0.26923 612.395 505.554)">M</text>
<text x="100" y="200" font-family="Liberation Serif" font-weight="normal" stroke="#fff" stroke-width="1" font-size="100" transform="matrix(0.27500 0 0 0.26923 632.200 505.554)">O</text>
<text x="100" y="200" font-family="Liberation Serif" font-weight="normal" stroke="#fff" stroke-width="1" font-size="100" transform="matrix(0.30238 0 0 0.26923 648.945 505.554)">S</text>
<text x="100" y="200" font-family="Liberation Serif" font-weight="normal" stroke="#fff" stroke-width="1" font-size="100" transform="matrix(0.25789 0 0 0.26923 668.695 505.554)">T</text>
<text x="100" y="200" font-family="Liberation Serif" font-weight="normal" stroke="#fff" stroke-width="1" font-size="100" transform="matrix(0.25538 0 0 0.26923 697.095 505.554)">D</text>
<text x="100" y="200" font-family="Liberation Serif" font-weight="normal" stroke="#fff" stroke-width="1" font-size="100" transform="matrix(0.27500 0 0 0.26923 712.675 505.554)">R</text>
<text x="100" y="200" font-family="Liberation Serif" font-weight="normal" stroke="#fff" stroke-width="1" font-size="100" transform="matrix(0.30976 0 0 0.26923 728.076 505.554)">3</text>
<text x="100" y="200" font-family="Liberation Serif" font-weight="normal" stroke="#000" stroke-width="0.6" font-size="100" transform="matrix(0.15638 0 0 0.23077 373.662 483.446)">W</text>
<text x="100" y="200" font-family="Liberation Serif" font-weight="normal" stroke="#000" stroke-width="0.6" font-size="100" transform="matrix(0.28974 0 0 0.23077 375.867 483.446)">a</text>
<text x="100" y="200" font-family="Liberation Serif" font-weight="normal" stroke="#000" stroke-width="0.6" font-size="100" transform="matrix(0.24800 0 0 0.23077 393.500 483.446)">v</text>
<text x="100" y="200" font-family="Liberation Serif" font-weight="normal" stroke="#000" stroke-width="0.6" font-size="100" transform="matrix(0.25135 0 0 0.23077 405.859 483.446)">e</text>
<text x="100" y="200" font-family="Liberation Serif" font-weight="normal" stroke="#000" stroke-width="0.6" font-size="100" transform="matrix(0.30417 0 0 0.23077 411.675 483.446)">l</text>
<text x="100" y="200" font-family="Liberation Serif" font-weight="normal" stroke="#000" stroke-width="0.6" font-size="100" transform="matrix(0.30541 0 0 0.23077 420.938 483.446)">e</text>
<text x="100" y="200" font-family="Liberation Serif" font-weight="normal" stroke="#000" stroke-width="0.6" font-size="100" transform="matrix(0.24783 0 0 0.23077 440.022 483.446)">n</text>
<text x="100" y="200" font-family="Liberation Serif" font-weight="normal" stroke="#000" stroke-width="0.6" font-size="100" transform="matrix(0.24318 0 0 0.23077 452.009 483.446)">g</text>
<text x="100" y="200" font-family="Liberation Serif" font-weight="normal" stroke="#000" stroke-width="0.6" font-size="100" transform="matrix(0.33462 0 0 0.23077 456.204 483.446)">t</text>
<text x="100" y="200" font-family="Liberation Serif" font-weight="normal" stroke="#000" stroke-width="0.6" font-size="100" transform="matrix(0.26458 0 0 0.23077 473.277 483.446)">h</text>
<text x="100" y="200" font-family="Liberation Serif" font-weight="normal" stroke="#000" stroke-width="0.6" font-size="100" transform="matrix(0.20385 0 0 0.23077 505.500 483.446)">(</text>
<text x="100" y="200" font-family="Liberation Serif" font-weight="normal" stroke="#000" stroke-width="0.6" font-size="100" transform="matrix(0.18143 0 0 0.23077 515.676 483.446)">Å</text>
<text x="100" y="200" font-family="Liberation Serif" font-weight="normal" stroke="#000" stroke-width="0.6" font-size="100" transform="matrix(0.23077 0 0 0.23077 523.531 483.446)">)</text>
<text x="100" y="200" font-family="Liberation Serif" font-weight="normal" stroke="#000" stroke-width="0.6" font-size="100" transform="matrix(0.17188 0 0 0.21538 590.125 546.923)">O</text>
<text x="100" y="200" font-family="Liberation Serif" font-weight="normal" stroke="#000" stroke-width="0.6" font-size="100" transform="matrix(0.21739 0 0 0.21538 599.261 546.923)">b</text>
<text x="100" y="200" font-family="Liberation Serif" font-weight="normal" stroke="#000" stroke-width="0.6" font-size="100" transform="matrix(0.23548 0 0 0.21538 609.210 546.923)">s</text>
<text x="100" y="200" font-family="Liberation Serif" font-weight="normal" stroke="#000" stroke-width="0.6" font-size="100" transform="matrix(0.24043 0 0 0.21538 619.455 546.923)">−</text>
<text x="100" y="200" font-family="Liberation Serif" font-weight="normal" stroke="#000" stroke-width="0.6" font-size="100" transform="matrix(0.15846 0 0 0.21538 642.678 546.923)">D</text>
<text x="100" y="200" font-family="Liberation Serif" font-weight="normal" stroke="#000" stroke-width="0.6" font-size="100" transform="matrix(0.22308 0 0 0.21538 649.800 546.923)">a</text>
<text x="100" y="200" font-family="Liberation Serif" font-weight="normal" stroke="#000" stroke-width="0.6" font-size="100" transform="matrix(0.24231 0 0 0.21538 659.227 546.923)">t</text>
<text x="100" y="200" font-family="Liberation Serif" font-weight="normal" stroke="#000" stroke-width="0.6" font-size="100" transform="matrix(0.23514 0 0 0.21538 668.846 546.923)">e</text>
<text x="100" y="200" font-family="Liberation Serif" font-weight="normal" stroke="#000" stroke-width="0.6" font-size="100" transform="matrix(0.22500 0 0 0.21538 681.000 546.923)">:</text>
<text x="100" y="200" font-family="Liberation Serif" font-weight="normal" stroke="#000" stroke-width="0.6" font-size="100" transform="matrix(0.26250 0 0 0.20896 692.600 547.791)">2</text>
<text x="100" y="200" font-family="Liberation Serif" font-weight="normal" stroke="#000" stroke-width="0.6" font-size="100" transform="matrix(0.22381 0 0 0.20896 709.424 547.791)">0</text>
<text x="100" y="200" font-family="Liberation Serif" font-weight="normal" stroke="#000" stroke-width="0.6" font-size="100" transform="matrix(0.19143 0 0 0.20896 724.534 547.791)">1</text>
<text x="100" y="200" font-family="Liberation Serif" font-weight="normal" stroke="#000" stroke-width="0.6" font-size="100" transform="matrix(0.25435 0 0 0.20896 728.957 547.791)">4</text>
<text x="100" y="200" font-family="Liberation Serif" font-weight="normal" stroke="#000" stroke-width="0.6" font-size="100" transform="matrix(0.17714 0 0 0.20896 751.091 547.791)">1</text>
<text x="100" y="200" font-family="Liberation Serif" font-weight="normal" stroke="#000" stroke-width="0.6" font-size="100" transform="matrix(0.26500 0 0 0.20896 751.740 547.791)">2</text>
<text x="100" y="200" font-family="Liberation Serif" font-weight="normal" stroke="#000" stroke-width="0.6" font-size="100" transform="matrix(0.21190 0 0 0.20896 770.662 547.791)">0</text>
<text x="100" y="200" font-family="Liberation Serif" font-weight="normal" stroke="#000" stroke-width="0.6" font-size="100" transform="matrix(0.21190 0 0 0.20896 781.762 547.791)">8</text>
<text x="100" y="200" font-family="Liberation Serif" font-weight="normal" stroke="#000" stroke-width="0.6" font-size="100" transform="matrix(0 -0.22653 0.22462 0 25.877 362.233)">F</text>
<text x="100" y="200" font-family="Liberation Serif" font-weight="normal" stroke="#000" stroke-width="0.6" font-size="100" transform="matrix(0 -0.37500 0.22462 0 25.877 364.650)">l</text>
<text x="100" y="200" font-family="Liberation Serif" font-weight="normal" stroke="#000" stroke-width="0.6" font-size="100" transform="matrix(0 -0.20638 0.22462 0 25.877 337.545)">u</text>
<text x="100" y="200" font-family="Liberation Serif" font-weight="normal" stroke="#000" stroke-width="0.6" font-size="100" transform="matrix(0 -0.21667 0.22462 0 25.877 326.783)">x</text>
<text x="100" y="200" font-family="Liberation Serif" font-weight="normal" stroke="#000" stroke-width="0.6" font-size="100" transform="matrix(0 -0.18846 0.22462 0 25.877 300.300)">(</text>
<text x="100" y="200" font-family="Liberation Serif" font-weight="normal" stroke="#000" stroke-width="0.6" font-size="100" transform="matrix(0 -0.27667 0.22462 0 25.877 302.620)">r</text>
<text x="100" y="200" font-family="Liberation Serif" font-weight="normal" stroke="#000" stroke-width="0.6" font-size="100" transform="matrix(0 -0.28378 0.22462 0 25.877 295.014)">e</text>
<text x="100" y="200" font-family="Liberation Serif" font-weight="normal" stroke="#000" stroke-width="0.6" font-size="100" transform="matrix(0 -0.33333 0.22462 0 25.877 287.500)">l</text>
<text x="100" y="200" font-family="Liberation Serif" font-weight="normal" stroke="#000" stroke-width="0.6" font-size="100" transform="matrix(0 -0.28462 0.22462 0 25.877 275.300)">a</text>
<text x="100" y="200" font-family="Liberation Serif" font-weight="normal" stroke="#000" stroke-width="0.6" font-size="100" transform="matrix(0 -0.37692 0.22462 0 25.877 271.369)">t</text>
<text x="100" y="200" font-family="Liberation Serif" font-weight="normal" stroke="#000" stroke-width="0.6" font-size="100" transform="matrix(0 -0.35000 0.22462 0 25.877 257.900)">i</text>
<text x="100" y="200" font-family="Liberation Serif" font-weight="normal" stroke="#000" stroke-width="0.6" font-size="100" transform="matrix(0 -0.20800 0.22462 0 25.877 233.200)">v</text>
<text x="100" y="200" font-family="Liberation Serif" font-weight="normal" stroke="#000" stroke-width="0.6" font-size="100" transform="matrix(0 -0.31892 0.22462 0 25.877 232.468)">e</text>
<text x="100" y="200" font-family="Liberation Serif" font-weight="normal" stroke="#000" stroke-width="0.6" font-size="100" transform="matrix(0 -0.21154 0.22462 0 25.877 207.188)">)</text>
<text x="100" y="200" font-family="Liberation Serif" font-size="100" transform="matrix(0.35806 0 0 0.26716 146.061 -20.067)">s</text>
<text x="100" y="200" font-family="Liberation Serif" font-size="100" transform="matrix(0.30227 0 0 0.26716 168.068 -20.067)">p</text>
<text x="100" y="200" font-family="Liberation Serif" font-size="100" transform="matrix(0.30000 0 0 0.26716 184.400 -20.067)">e</text>
<text x="100" y="200" font-family="Liberation Serif" font-size="100" transform="matrix(0.32973 0 0 0.26716 196.808 -20.067)">c</text>
<text x="100" y="200" font-family="Liberation Serif" font-size="100" transform="matrix(0.35319 0 0 0.26716 210.715 -20.067)">−</text>
<text x="100" y="200" font-family="Liberation Serif" font-size="100" transform="matrix(0.27750 0 0 0.26716 239.485 -20.067)">5</text>
<text x="100" y="200" font-family="Liberation Serif" font-size="100" transform="matrix(0.30750 0 0 0.26716 251.497 -20.067)">7</text>
<text x="100" y="200" font-family="Liberation Serif" font-size="100" transform="matrix(0.29048 0 0 0.26716 270.890 -20.067)">0</text>
<text x="100" y="200" font-family="Liberation Serif" font-size="100" transform="matrix(0.29048 0 0 0.26716 287.590 -20.067)">0</text>
<text x="100" y="200" font-family="Liberation Serif" font-size="100" transform="matrix(0.26429 0 0 0.26716 308.114 -20.067)">0</text>
<text x="100" y="200" font-family="Liberation Serif" font-size="100" transform="matrix(0.33191 0 0 0.26716 316.249 -20.067)">−</text>
<text x="100" y="200" font-family="Liberation Serif" font-size="100" transform="matrix(0.22771 0 0 0.26716 348.746 -20.067)">M</text>
<text x="100" y="200" font-family="Liberation Serif" font-size="100" transform="matrix(0.27317 0 0 0.26716 365.717 -20.067)">3</text>
<text x="100" y="200" font-family="Liberation Serif" font-size="100" transform="matrix(0.31714 0 0 0.26716 376.531 -20.067)">1</text>
<text x="100" y="200" font-family="Liberation Serif" font-size="100" transform="matrix(0.29048 0 0 0.26716 396.490 -20.067)">0</text>
<text x="100" y="200" font-family="Liberation Serif" font-size="100" transform="matrix(0.27750 0 0 0.26716 414.440 -20.067)">2</text>
<text x="100" y="200" font-family="Liberation Serif" font-size="100" transform="matrix(0.27750 0 0 0.26716 429.207 -20.067)">7</text>
<text x="100" y="200" font-family="Liberation Serif" font-size="100" transform="matrix(0.24925 0 0 0.26716 448.727 -20.067)">N</text>
<text x="100" y="200" font-family="Liberation Serif" font-size="100" transform="matrix(0.27750 0 0 0.26716 467.840 -20.067)">2</text>
<text x="100" y="200" font-family="Liberation Serif" font-size="100" transform="matrix(0.25814 0 0 0.26716 485.353 -20.067)">6</text>
<text x="100" y="200" font-family="Liberation Serif" font-size="100" transform="matrix(0.24407 0 0 0.26716 503.761 -20.067)">B</text>
<text x="100" y="200" font-family="Liberation Serif" font-size="100" transform="matrix(0.31714 0 0 0.26716 513.231 -20.067)">1</text>
<text x="100" y="200" font-family="Liberation Serif" font-size="100" transform="matrix(0.18077 0 0 0.26716 544.404 -16.067)">_</text>
<text x="100" y="200" font-family="Liberation Serif" font-size="100" transform="matrix(0.33871 0 0 0.26716 537.574 -20.067)">s</text>
<text x="100" y="200" font-family="Liberation Serif" font-size="100" transform="matrix(0.31818 0 0 0.26716 553.245 -20.067)">p</text>
<text x="100" y="200" font-family="Liberation Serif" font-size="100" transform="matrix(0.30000 0 0 0.26716 571.600 -20.067)">1</text>
<text x="100" y="200" font-family="Liberation Serif" font-size="100" transform="matrix(0.26571 0 0 0.26716 591.737 -20.067)">1</text>
<text x="100" y="200" font-family="Liberation Serif" font-size="100" transform="matrix(0.39574 0 0 0.26716 593.147 -20.067)">−</text>
<text x="100" y="200" font-family="Liberation Serif" font-size="100" transform="matrix(0.27857 0 0 0.26716 629.029 -20.067)">0</text>
<text x="100" y="200" font-family="Liberation Serif" font-size="100" transform="matrix(0.29250 0 0 0.26716 643.002 -20.067)">7</text>
<text x="100" y="200" font-family="Liberation Serif" font-size="100" transform="matrix(0.29000 0 0 0.26716 659.670 -20.067)">7</text>
<text x="100" y="200" font-family="Liberation Serif" font-size="100" transform="matrix(0.31818 0 0 0.26716 670.655 -20.067)">.</text>
<text x="100" y="200" font-family="Liberation Serif" font-size="100" transform="matrix(0.38667 0 0 0.26716 671.873 -20.067)">f</text>
<text x="100" y="200" font-family="Liberation Serif" font-size="100" transform="matrix(0.24167 0 0 0.26716 701.050 -20.067)">i</text>
<text x="100" y="200" font-family="Liberation Serif" font-size="100" transform="matrix(0.40385 0 0 0.26716 693.012 -20.067)">t</text>
<text x="100" y="200" font-family="Liberation Serif" font-size="100" transform="matrix(0.37419 0 0 0.26716 707.784 -20.067)">s</text>
<text x="100" y="200" font-family="Liberation Serif" stroke="#000" stroke-width="3.5" font-size="100" transform="matrix(0.15575 0 0 0.15385 121.758 30.631)">Hθ</text>
<text x="100" y="200" font-family="Liberation Serif" stroke="#000" stroke-width="3.5" font-size="100" transform="matrix(0.14265 0 0 0.15385 144.307 30.631)">K</text>
<text x="100" y="200" font-family="Liberation Serif" stroke="#000" stroke-width="3.5" font-size="100" transform="matrix(0.16549 0 0 0.15385 157.955 30.631)">Hδ</text>
<text x="100" y="200" font-family="Liberation Serif" stroke="#000" stroke-width="3.5" font-size="100" transform="matrix(0.14727 0 0 0.15385 190.084 30.631)">OIII</text>
<text x="100" y="200" font-family="Liberation Serif" stroke="#000" stroke-width="3.5" font-size="100" transform="matrix(0.14606 0 0 0.15385 270.610 30.631)">OIII</text>
<text x="100" y="200" font-family="Liberation Serif" stroke="#000" stroke-width="3.5" font-size="100" transform="matrix(0.14286 0 0 0.15385 438.143 30.631)">OI</text>
<text x="100" y="200" font-family="Liberation Serif" stroke="#000" stroke-width="3.5" font-size="100" transform="matrix(0.17143 0 0 0.15385 464.443 30.631)">Hα</text>
<text x="100" y="200" font-family="Liberation Serif" stroke="#000" stroke-width="3.5" font-size="100" transform="matrix(0.16339 0 0 0.15385 485.017 30.631)">SII</text>
<text x="100" y="200" font-family="Liberation Serif" stroke="#000" stroke-width="3.5" font-size="100" transform="matrix(0.16353 0 0 0.15385 709.193 30.631)">CaII</text>
<text x="100" y="200" font-family="Liberation Serif" stroke="#000" stroke-width="3.5" font-size="100" transform="matrix(0.14504 0 0 0.14308 113.916 49.985)">OII</text>
<text x="100" y="200" font-family="Liberation Serif" stroke="#000" stroke-width="3.5" font-size="100" transform="matrix(0.15035 0 0 0.14308 132.514 49.985)">HeI</text>
<text x="100" y="200" font-family="Liberation Serif" stroke="#000" stroke-width="3.5" font-size="100" transform="matrix(0.16339 0 0 0.14308 154.217 49.985)">SII</text>
<text x="100" y="200" font-family="Liberation Serif" stroke="#000" stroke-width="3.5" font-size="100" transform="matrix(0.16847 0 0 0.14308 188.048 49.985)">Hγ</text>
<text x="100" y="200" font-family="Liberation Serif" stroke="#000" stroke-width="3.5" font-size="100" transform="matrix(0.14606 0 0 0.14308 264.810 49.985)">OIII</text>
<text x="100" y="200" font-family="Liberation Serif" stroke="#000" stroke-width="3.5" font-size="100" transform="matrix(0.17143 0 0 0.14308 381.043 49.985)">Na</text>
<text x="100" y="200" font-family="Liberation Serif" stroke="#000" stroke-width="3.5" font-size="100" transform="matrix(0.14242 0 0 0.14308 466.530 49.985)">NII</text>
<text x="100" y="200" font-family="Liberation Serif" stroke="#000" stroke-width="3.5" font-size="100" transform="matrix(0.14881 0 0 0.14308 488.773 49.985)">Li</text>
<text x="100" y="200" font-family="Liberation Serif" stroke="#000" stroke-width="3.5" font-size="100" transform="matrix(0.16471 0 0 0.14308 703.871 49.985)">CaII</text>
<text x="100" y="200" font-family="Liberation Serif" stroke="#000" stroke-width="3.5" font-size="100" transform="matrix(0.14809 0 0 0.14769 113.198 66.362)">OII</text>
<text x="100" y="200" font-family="Liberation Serif" stroke="#000" stroke-width="3.5" font-size="100" transform="matrix(0.14914 0 0 0.14769 127.639 66.362)">Hη</text>
<text x="100" y="200" font-family="Liberation Serif" stroke="#000" stroke-width="3.5" font-size="100" transform="matrix(0.14394 0 0 0.14769 148.674 66.362)">H</text>
<text x="100" y="200" font-family="Liberation Serif" stroke="#000" stroke-width="3.5" font-size="100" transform="matrix(0.13385 0 0 0.14769 192.680 66.362)">G</text>
<text x="100" y="200" font-family="Liberation Serif" stroke="#000" stroke-width="3.5" font-size="100" transform="matrix(0.16466 0 0 0.14769 253.041 66.362)">Hβ</text>
<text x="100" y="200" font-family="Liberation Serif" stroke="#000" stroke-width="3.5" font-size="100" transform="matrix(0.13955 0 0 0.14769 294.726 66.362)">Mg</text>
<text x="100" y="200" font-family="Liberation Serif" stroke="#000" stroke-width="3.5" font-size="100" transform="matrix(0.14286 0 0 0.14769 446.143 66.362)">OI</text>
<text x="100" y="200" font-family="Liberation Serif" stroke="#000" stroke-width="3.5" font-size="100" transform="matrix(0.14167 0 0 0.14769 470.808 66.362)">NII</text>
<text x="100" y="200" font-family="Liberation Serif" stroke="#000" stroke-width="3.5" font-size="100" transform="matrix(0.18125 0 0 0.14769 483.106 66.362)">SII</text>
<text x="100" y="200" font-family="Liberation Serif" stroke="#000" stroke-width="3.5" font-size="100" transform="matrix(0.16353 0 0 0.14769 723.993 66.362)">CaII</text>
</g>
<path d="M138 44h1v1h-1zM138 47h1v2h-1zM138 51h1v2h-1zM138 55h1v2h-1zM138 59h1v2h-1zM138 63h1v2h-1zM138 67h1v2h-1zM138 71h1v2h-1zM138 75h1v2h-1zM138 79h1v2h-1zM138 83h1v2h-1zM138 87h1v2h-1zM138 91h1v2h-1zM138 95h1v2h-1zM138 99h1v2h-1zM138 103h1v2h-1zM138 107h1v2h-1zM138 111h1v2h-1zM138 115h1v2h-1zM138 119h1v2h-1zM138 123h1v2h-1zM138 127h1v2h-1zM138 131h1v2h-1zM138 135h1v2h-1zM138 139h1v2h-1zM138 143h1v2h-1zM138 147h1v2h-1zM138 151h1v2h-1zM138 155h1v2h-1zM138 158h1v2h-1zM138 162h1v2h-1zM138 166h1v2h-1zM138 170h1v2h-1zM138 174h1v2h-1zM138 178h1v2h-1zM138 182h1v2h-1zM138 186h1v2h-1zM138 190h1v2h-1zM138 194h1v2h-1zM138 198h1v2h-1zM138 202h1v2h-1zM138 206h1v2h-1zM138 210h1v2h-1zM138 214h1v2h-1zM138 218h1v2h-1zM138 222h1v2h-1zM138 226h1v2h-1zM138 230h1v2h-1zM138 234h1v2h-1zM138 238h1v2h-1zM138 242h1v2h-1zM138 246h1v2h-1zM138 250h1v2h-1zM138 254h1v2h-1zM138 258h1v2h-1zM138 262h1v2h-1zM138 266h1v2h-1zM138 270h1v2h-1zM138 274h1v2h-1zM138 278h1v2h-1zM138 282h1v2h-1zM138 286h1v2h-1zM138 290h1v2h-1zM138 294h1v2h-1zM138 298h1v2h-1zM138 301h1v2h-1zM138 305h1v2h-1zM138 309h1v2h-1zM138 313h1v2h-1zM138 317h1v2h-1zM138 321h1v2h-1zM138 325h1v2h-1zM138 329h1v2h-1zM138 333h1v2h-1zM138 337h1v2h-1zM138 341h1v2h-1zM138 345h1v2h-1zM138 349h1v2h-1zM138 353h1v2h-1zM138 357h1v2h-1zM138 361h1v2h-1zM138 365h1v2h-1zM138 369h1v2h-1zM138 373h1v2h-1zM138 377h1v2h-1zM138 381h1v2h-1zM138 385h1v2h-1zM138 389h1v2h-1zM138 393h1v2h-1zM138 397h1v2h-1zM138 401h1v2h-1zM138 405h1v2h-1zM138 409h1v2h-1zM138 413h1v2h-1zM138 417h1v2h-1zM138 421h1v2h-1zM138 425h1v2h-1zM138 429h1v2h-1zM138 433h1v2h-1zM138 437h1v2h-1zM138 440h1v2h-1zM138 444h1v2h-1zM138 448h1v2h-1zM138 452h1v2h-1zM138 456h1v2h-1zM138 460h1v2h-1zM138 464h1v2h-1zM138 468h1v2h-1zM138 472h1v2h-1zM147 44h1v1h-1zM147 47h1v2h-1zM147 51h1v2h-1zM147 55h1v2h-1zM147 59h1v2h-1zM147 63h1v2h-1zM147 67h1v2h-1zM147 71h1v2h-1zM147 75h1v2h-1zM147 79h1v2h-1zM147 83h1v2h-1zM147 87h1v2h-1zM147 91h1v2h-1zM147 95h1v2h-1zM147 99h1v2h-1zM147 103h1v2h-1zM147 107h1v2h-1zM147 111h1v2h-1zM147 115h1v2h-1zM147 119h1v2h-1zM147 123h1v2h-1zM147 127h1v2h-1zM147 131h1v2h-1zM147 135h1v2h-1zM147 139h1v2h-1zM147 143h1v2h-1zM147 147h1v2h-1zM147 151h1v2h-1zM147 155h1v2h-1zM147 158h1v2h-1zM147 162h1v2h-1zM147 166h1v2h-1zM147 170h1v2h-1zM147 174h1v2h-1zM147 178h1v2h-1zM147 182h1v2h-1zM147 186h1v2h-1zM147 190h1v2h-1zM147 194h1v2h-1zM147 198h1v2h-1zM147 202h1v2h-1zM147 206h1v2h-1zM147 210h1v2h-1zM147 214h1v2h-1zM147 218h1v2h-1zM147 222h1v2h-1zM147 226h1v2h-1zM147 230h1v2h-1zM147 234h1v2h-1zM147 238h1v2h-1zM147 242h1v2h-1zM147 246h1v2h-1zM147 250h1v2h-1zM147 254h1v2h-1zM147 258h1v2h-1zM147 262h1v2h-1zM147 266h1v2h-1zM147 270h1v2h-1zM147 274h1v2h-1zM147 278h1v2h-1zM147 282h1v2h-1zM147 286h1v2h-1zM147 290h1v2h-1zM147 294h1v2h-1zM147 298h1v2h-1zM147 301h1v2h-1zM147 305h1v2h-1zM147 309h1v2h-1zM147 313h1v2h-1zM147 317h1v2h-1zM147 321h1v2h-1zM147 325h1v2h-1zM147 329h1v2h-1zM147 333h1v2h-1zM147 337h1v2h-1zM147 341h1v2h-1zM147 345h1v2h-1zM147 349h1v2h-1zM147 353h1v2h-1zM147 357h1v2h-1zM147 361h1v2h-1zM147 365h1v2h-1zM147 369h1v2h-1zM147 373h1v2h-1zM147 377h1v2h-1zM147 381h1v2h-1zM147 385h1v2h-1zM147 389h1v2h-1zM147 393h1v2h-1zM147 397h1v2h-1zM147 401h1v2h-1zM147 405h1v2h-1zM147 409h1v2h-1zM147 413h1v2h-1zM147 417h1v2h-1zM147 421h1v2h-1zM147 425h1v2h-1zM147 429h1v2h-1zM147 433h1v2h-1zM147 437h1v2h-1zM147 440h1v2h-1zM147 444h1v2h-1zM147 448h1v2h-1zM147 452h1v2h-1zM147 456h1v2h-1zM147 460h1v2h-1zM147 464h1v2h-1zM147 468h1v2h-1zM147 472h1v2h-1zM151 44h1v1h-1zM151 47h1v2h-1zM151 51h1v2h-1zM151 55h1v2h-1zM151 59h1v2h-1zM151 63h1v2h-1zM151 67h1v2h-1zM151 71h1v2h-1zM151 75h1v2h-1zM151 79h1v2h-1zM151 83h1v2h-1zM151 87h1v2h-1zM151 91h1v2h-1zM151 95h1v2h-1zM151 99h1v2h-1zM151 103h1v2h-1zM151 107h1v2h-1zM151 111h1v2h-1zM151 115h1v2h-1zM151 119h1v2h-1zM151 123h1v2h-1zM151 127h1v2h-1zM151 131h1v2h-1zM151 135h1v2h-1zM151 139h1v2h-1zM151 143h1v2h-1zM151 147h1v2h-1zM151 151h1v2h-1zM151 155h1v2h-1zM151 158h1v2h-1zM151 162h1v2h-1zM151 166h1v2h-1zM151 170h1v2h-1zM151 174h1v2h-1zM151 178h1v2h-1zM151 182h1v2h-1zM151 186h1v2h-1zM151 190h1v2h-1zM151 194h1v2h-1zM151 198h1v2h-1zM151 202h1v2h-1zM151 206h1v2h-1zM151 210h1v2h-1zM151 214h1v2h-1zM151 218h1v2h-1zM151 222h1v2h-1zM151 226h1v2h-1zM151 230h1v2h-1zM151 234h1v2h-1zM151 238h1v2h-1zM151 242h1v2h-1zM151 246h1v2h-1zM151 250h1v2h-1zM151 254h1v2h-1zM151 258h1v2h-1zM151 262h1v2h-1zM151 266h1v2h-1zM151 270h1v2h-1zM151 274h1v2h-1zM151 278h1v2h-1zM151 282h1v2h-1zM151 286h1v2h-1zM151 290h1v2h-1zM151 294h1v2h-1zM151 298h1v2h-1zM151 301h1v2h-1zM151 305h1v2h-1zM151 309h1v2h-1zM151 313h1v2h-1zM151 317h1v2h-1zM151 321h1v2h-1zM151 325h1v2h-1zM151 329h1v2h-1zM151 333h1v2h-1zM151 337h1v2h-1zM151 341h1v2h-1zM151 345h1v2h-1zM151 349h1v2h-1zM151 353h1v2h-1zM151 357h1v2h-1zM151 361h1v2h-1zM151 365h1v2h-1zM151 369h1v2h-1zM151 373h1v2h-1zM151 377h1v2h-1zM151 381h1v2h-1zM151 385h1v2h-1zM151 389h1v2h-1zM151 393h1v2h-1zM151 397h1v2h-1zM151 401h1v2h-1zM151 405h1v2h-1zM151 409h1v2h-1zM151 413h1v2h-1zM151 417h1v2h-1zM151 421h1v2h-1zM151 425h1v2h-1zM151 429h1v2h-1zM151 433h1v2h-1zM151 437h1v2h-1zM151 440h1v2h-1zM151 444h1v2h-1zM151 448h1v2h-1zM151 452h1v2h-1zM151 456h1v2h-1zM151 460h1v2h-1zM151 464h1v2h-1zM151 468h1v2h-1zM151 472h1v2h-1zM158 44h1v1h-1zM158 47h1v2h-1zM158 51h1v2h-1zM158 55h1v2h-1zM158 59h1v2h-1zM158 63h1v2h-1zM158 67h1v2h-1zM158 71h1v2h-1zM158 75h1v2h-1zM158 79h1v2h-1zM158 83h1v2h-1zM158 87h1v2h-1zM158 91h1v2h-1zM158 95h1v2h-1zM158 99h1v2h-1zM158 103h1v2h-1zM158 107h1v2h-1zM158 111h1v2h-1zM158 115h1v2h-1zM158 119h1v2h-1zM158 123h1v2h-1zM158 127h1v2h-1zM158 131h1v2h-1zM158 135h1v2h-1zM158 139h1v2h-1zM158 143h1v2h-1zM158 147h1v2h-1zM158 151h1v2h-1zM158 155h1v2h-1zM158 158h1v2h-1zM158 162h1v2h-1zM158 166h1v2h-1zM158 170h1v2h-1zM158 174h1v2h-1zM158 178h1v2h-1zM158 182h1v2h-1zM158 186h1v2h-1zM158 190h1v2h-1zM158 194h1v2h-1zM158 198h1v2h-1zM158 202h1v2h-1zM158 206h1v2h-1zM158 210h1v2h-1zM158 214h1v2h-1zM158 218h1v2h-1zM158 222h1v2h-1zM158 226h1v2h-1zM158 230h1v2h-1zM158 234h1v2h-1zM158 238h1v2h-1zM158 242h1v2h-1zM158 246h1v2h-1zM158 250h1v2h-1zM158 254h1v2h-1zM158 258h1v2h-1zM158 262h1v2h-1zM158 266h1v2h-1zM158 270h1v2h-1zM158 274h1v2h-1zM158 278h1v2h-1zM158 282h1v2h-1zM158 286h1v2h-1zM158 290h1v2h-1zM158 294h1v2h-1zM158 298h1v2h-1zM158 301h1v2h-1zM158 305h1v2h-1zM158 309h1v2h-1zM158 313h1v2h-1zM158 317h1v2h-1zM158 321h1v2h-1zM158 325h1v2h-1zM158 329h1v2h-1zM158 333h1v2h-1zM158 337h1v2h-1zM158 341h1v2h-1zM158 345h1v2h-1zM158 349h1v2h-1zM158 353h1v2h-1zM158 357h1v2h-1zM158 361h1v2h-1zM158 365h1v2h-1zM158 369h1v2h-1zM158 373h1v2h-1zM158 377h1v2h-1zM158 381h1v2h-1zM158 385h1v2h-1zM158 389h1v2h-1zM158 393h1v2h-1zM158 397h1v2h-1zM158 401h1v2h-1zM158 405h1v2h-1zM158 409h1v2h-1zM158 413h1v2h-1zM158 417h1v2h-1zM158 421h1v2h-1zM158 425h1v2h-1zM158 429h1v2h-1zM158 433h1v2h-1zM158 437h1v2h-1zM158 440h1v2h-1zM158 444h1v2h-1zM158 448h1v2h-1zM158 452h1v2h-1zM158 456h1v2h-1zM158 460h1v2h-1zM158 464h1v2h-1zM158 468h1v2h-1zM158 472h1v2h-1zM164 44h1v1h-1zM164 47h1v2h-1zM164 51h1v2h-1zM164 55h1v2h-1zM164 59h1v2h-1zM164 63h1v2h-1zM164 67h1v2h-1zM164 71h1v2h-1zM164 75h1v2h-1zM164 79h1v2h-1zM164 83h1v2h-1zM164 87h1v2h-1zM164 91h1v2h-1zM164 95h1v2h-1zM164 99h1v2h-1zM164 103h1v2h-1zM164 107h1v2h-1zM164 111h1v2h-1zM164 115h1v2h-1zM164 119h1v2h-1zM164 123h1v2h-1zM164 127h1v2h-1zM164 131h1v2h-1zM164 135h1v2h-1zM164 139h1v2h-1zM164 143h1v2h-1zM164 147h1v2h-1zM164 151h1v2h-1zM164 155h1v2h-1zM164 158h1v2h-1zM164 162h1v2h-1zM164 166h1v2h-1zM164 170h1v2h-1zM164 174h1v2h-1zM164 178h1v2h-1zM164 182h1v2h-1zM164 186h1v2h-1zM164 190h1v2h-1zM164 194h1v2h-1zM164 198h1v2h-1zM164 202h1v2h-1zM164 206h1v2h-1zM164 210h1v2h-1zM164 214h1v2h-1zM164 218h1v2h-1zM164 222h1v2h-1zM164 226h1v2h-1zM164 230h1v2h-1zM164 234h1v2h-1zM164 238h1v2h-1zM164 242h1v2h-1zM164 246h1v2h-1zM164 250h1v2h-1zM164 254h1v2h-1zM164 258h1v2h-1zM164 262h1v2h-1zM164 266h1v2h-1zM164 270h1v2h-1zM164 274h1v2h-1zM164 278h1v2h-1zM164 282h1v2h-1zM164 286h1v2h-1zM164 290h1v2h-1zM164 294h1v2h-1zM164 298h1v2h-1zM164 301h1v2h-1zM164 305h1v2h-1zM164 309h1v2h-1zM164 313h1v2h-1zM164 317h1v2h-1zM164 321h1v2h-1zM164 325h1v2h-1zM164 329h1v2h-1zM164 333h1v2h-1zM164 337h1v2h-1zM164 341h1v2h-1zM164 345h1v2h-1zM164 349h1v2h-1zM164 353h1v2h-1zM164 357h1v2h-1zM164 361h1v2h-1zM164 365h1v2h-1zM164 369h1v2h-1zM164 373h1v2h-1zM164 377h1v2h-1zM164 381h1v2h-1zM164 385h1v2h-1zM164 389h1v2h-1zM164 393h1v2h-1zM164 397h1v2h-1zM164 401h1v2h-1zM164 405h1v2h-1zM164 409h1v2h-1zM164 413h1v2h-1zM164 417h1v2h-1zM164 421h1v2h-1zM164 425h1v2h-1zM164 429h1v2h-1zM164 433h1v2h-1zM164 437h1v2h-1zM164 440h1v2h-1zM164 444h1v2h-1zM164 448h1v2h-1zM164 452h1v2h-1zM164 456h1v2h-1zM164 460h1v2h-1zM164 464h1v2h-1zM164 468h1v2h-1zM164 472h1v2h-1zM168 44h1v1h-1zM168 47h1v2h-1zM168 51h1v2h-1zM168 55h1v2h-1zM168 59h1v2h-1zM168 63h1v2h-1zM168 67h1v2h-1zM168 71h1v2h-1zM168 75h1v2h-1zM168 79h1v2h-1zM168 83h1v2h-1zM168 87h1v2h-1zM168 91h1v2h-1zM168 95h1v2h-1zM168 99h1v2h-1zM168 103h1v2h-1zM168 107h1v2h-1zM168 111h1v2h-1zM168 115h1v2h-1zM168 119h1v2h-1zM168 123h1v2h-1zM168 127h1v2h-1zM168 131h1v2h-1zM168 135h1v2h-1zM168 139h1v2h-1zM168 143h1v2h-1zM168 147h1v2h-1zM168 151h1v2h-1zM168 155h1v2h-1zM168 158h1v2h-1zM168 162h1v2h-1zM168 166h1v2h-1zM168 170h1v2h-1zM168 174h1v2h-1zM168 178h1v2h-1zM168 182h1v2h-1zM168 186h1v2h-1zM168 190h1v2h-1zM168 194h1v2h-1zM168 198h1v2h-1zM168 202h1v2h-1zM168 206h1v2h-1zM168 210h1v2h-1zM168 214h1v2h-1zM168 218h1v2h-1zM168 222h1v2h-1zM168 226h1v2h-1zM168 230h1v2h-1zM168 234h1v2h-1zM168 238h1v2h-1zM168 242h1v2h-1zM168 246h1v2h-1zM168 250h1v2h-1zM168 254h1v2h-1zM168 258h1v2h-1zM168 262h1v2h-1zM168 266h1v2h-1zM168 270h1v2h-1zM168 274h1v2h-1zM168 278h1v2h-1zM168 282h1v2h-1zM168 286h1v2h-1zM168 290h1v2h-1zM168 294h1v2h-1zM168 298h1v2h-1zM168 301h1v2h-1zM168 305h1v2h-1zM168 309h1v2h-1zM168 313h1v2h-1zM168 317h1v2h-1zM168 321h1v2h-1zM168 325h1v2h-1zM168 329h1v2h-1zM168 333h1v2h-1zM168 337h1v2h-1zM168 341h1v2h-1zM168 345h1v2h-1zM168 349h1v2h-1zM168 353h1v2h-1zM168 357h1v2h-1zM168 361h1v2h-1zM168 365h1v2h-1zM168 369h1v2h-1zM168 373h1v2h-1zM168 377h1v2h-1zM168 381h1v2h-1zM168 385h1v2h-1zM168 389h1v2h-1zM168 393h1v2h-1zM168 397h1v2h-1zM168 401h1v2h-1zM168 405h1v2h-1zM168 409h1v2h-1zM168 413h1v2h-1zM168 417h1v2h-1zM168 421h1v2h-1zM168 425h1v2h-1zM168 429h1v2h-1zM168 433h1v2h-1zM168 437h1v2h-1zM168 440h1v2h-1zM168 444h1v2h-1zM168 448h1v2h-1zM168 452h1v2h-1zM168 456h1v2h-1zM168 460h1v2h-1zM168 464h1v2h-1zM168 468h1v2h-1zM168 472h1v2h-1zM181 44h1v1h-1zM181 47h1v2h-1zM181 51h1v2h-1zM181 55h1v2h-1zM181 59h1v2h-1zM181 63h1v2h-1zM181 67h1v2h-1zM181 71h1v2h-1zM181 75h1v2h-1zM181 79h1v2h-1zM181 83h1v2h-1zM181 87h1v2h-1zM181 91h1v2h-1zM181 95h1v2h-1zM181 99h1v2h-1zM181 103h1v2h-1zM181 107h1v2h-1zM181 111h1v2h-1zM181 115h1v2h-1zM181 119h1v2h-1zM181 123h1v2h-1zM181 127h1v2h-1zM181 131h1v2h-1zM181 135h1v2h-1zM181 139h1v2h-1zM181 143h1v2h-1zM181 147h1v2h-1zM181 151h1v2h-1zM181 155h1v2h-1zM181 158h1v2h-1zM181 162h1v2h-1zM181 166h1v2h-1zM181 170h1v2h-1zM181 174h1v2h-1zM181 178h1v2h-1zM181 182h1v2h-1zM181 186h1v2h-1zM181 190h1v2h-1zM181 194h1v2h-1zM181 198h1v2h-1zM181 202h1v2h-1zM181 206h1v2h-1zM181 210h1v2h-1zM181 214h1v2h-1zM181 218h1v2h-1zM181 222h1v2h-1zM181 226h1v2h-1zM181 230h1v2h-1zM181 234h1v2h-1zM181 238h1v2h-1zM181 242h1v2h-1zM181 246h1v2h-1zM181 250h1v2h-1zM181 254h1v2h-1zM181 258h1v2h-1zM181 262h1v2h-1zM181 266h1v2h-1zM181 270h1v2h-1zM181 274h1v2h-1zM181 278h1v2h-1zM181 282h1v2h-1zM181 286h1v2h-1zM181 290h1v2h-1zM181 294h1v2h-1zM181 298h1v2h-1zM181 301h1v2h-1zM181 305h1v2h-1zM181 309h1v2h-1zM181 313h1v2h-1zM181 317h1v2h-1zM181 321h1v2h-1zM181 325h1v2h-1zM181 329h1v2h-1zM181 333h1v2h-1zM181 337h1v2h-1zM181 341h1v2h-1zM181 345h1v2h-1zM181 349h1v2h-1zM181 353h1v2h-1zM181 357h1v2h-1zM181 361h1v2h-1zM181 365h1v2h-1zM181 369h1v2h-1zM181 373h1v2h-1zM181 377h1v2h-1zM181 381h1v2h-1zM181 385h1v2h-1zM181 389h1v2h-1zM181 393h1v2h-1zM181 397h1v2h-1zM181 401h1v2h-1zM181 405h1v2h-1zM181 409h1v2h-1zM181 413h1v2h-1zM181 417h1v2h-1zM181 421h1v2h-1zM181 425h1v2h-1zM181 429h1v2h-1zM181 433h1v2h-1zM181 437h1v2h-1zM181 440h1v2h-1zM181 444h1v2h-1zM181 448h1v2h-1zM181 452h1v2h-1zM181 456h1v2h-1zM181 460h1v2h-1zM181 464h1v2h-1zM181 468h1v2h-1zM181 472h1v2h-1zM185 44h1v1h-1zM185 47h1v2h-1zM185 51h1v2h-1zM185 55h1v2h-1zM185 59h1v2h-1zM185 63h1v2h-1zM185 67h1v2h-1zM185 71h1v2h-1zM185 75h1v2h-1zM185 79h1v2h-1zM185 83h1v2h-1zM185 87h1v2h-1zM185 91h1v2h-1zM185 95h1v2h-1zM185 99h1v2h-1zM185 103h1v2h-1zM185 107h1v2h-1zM185 111h1v2h-1zM185 115h1v2h-1zM185 119h1v2h-1zM185 123h1v2h-1zM185 127h1v2h-1zM185 131h1v2h-1zM185 135h1v2h-1zM185 139h1v2h-1zM185 143h1v2h-1zM185 147h1v2h-1zM185 151h1v2h-1zM185 155h1v2h-1zM185 158h1v2h-1zM185 162h1v2h-1zM185 166h1v2h-1zM185 170h1v2h-1zM185 174h1v2h-1zM185 178h1v2h-1zM185 182h1v2h-1zM185 186h1v2h-1zM185 190h1v2h-1zM185 194h1v2h-1zM185 198h1v2h-1zM185 202h1v2h-1zM185 206h1v2h-1zM185 210h1v2h-1zM185 214h1v2h-1zM185 218h1v2h-1zM185 222h1v2h-1zM185 226h1v2h-1zM185 230h1v2h-1zM185 234h1v2h-1zM185 238h1v2h-1zM185 242h1v2h-1zM185 246h1v2h-1zM185 250h1v2h-1zM185 254h1v2h-1zM185 258h1v2h-1zM185 262h1v2h-1zM185 266h1v2h-1zM185 270h1v2h-1zM185 274h1v2h-1zM185 278h1v2h-1zM185 282h1v2h-1zM185 286h1v2h-1zM185 290h1v2h-1zM185 294h1v2h-1zM185 298h1v2h-1zM185 301h1v2h-1zM185 305h1v2h-1zM185 309h1v2h-1zM185 313h1v2h-1zM185 317h1v2h-1zM185 321h1v2h-1zM185 325h1v2h-1zM185 329h1v2h-1zM185 333h1v2h-1zM185 337h1v2h-1zM185 341h1v2h-1zM185 345h1v2h-1zM185 349h1v2h-1zM185 353h1v2h-1zM185 357h1v2h-1zM185 361h1v2h-1zM185 365h1v2h-1zM185 369h1v2h-1zM185 373h1v2h-1zM185 377h1v2h-1zM185 381h1v2h-1zM185 385h1v2h-1zM185 389h1v2h-1zM185 393h1v2h-1zM185 397h1v2h-1zM185 401h1v2h-1zM185 405h1v2h-1zM185 409h1v2h-1zM185 413h1v2h-1zM185 417h1v2h-1zM185 421h1v2h-1zM185 425h1v2h-1zM185 429h1v2h-1zM185 433h1v2h-1zM185 437h1v2h-1zM185 440h1v2h-1zM185 444h1v2h-1zM185 448h1v2h-1zM185 452h1v2h-1zM185 456h1v2h-1zM185 460h1v2h-1zM185 464h1v2h-1zM185 468h1v2h-1zM185 472h1v2h-1zM210 44h1v1h-1zM210 47h1v2h-1zM210 51h1v2h-1zM210 55h1v2h-1zM210 59h1v2h-1zM210 63h1v2h-1zM210 67h1v2h-1zM210 71h1v2h-1zM210 75h1v2h-1zM210 79h1v2h-1zM210 83h1v2h-1zM210 87h1v2h-1zM210 91h1v2h-1zM210 95h1v2h-1zM210 99h1v2h-1zM210 103h1v2h-1zM210 107h1v2h-1zM210 111h1v2h-1zM210 115h1v2h-1zM210 119h1v2h-1zM210 123h1v2h-1zM210 127h1v2h-1zM210 131h1v2h-1zM210 135h1v2h-1zM210 139h1v2h-1zM210 143h1v2h-1zM210 147h1v2h-1zM210 151h1v2h-1zM210 155h1v2h-1zM210 158h1v2h-1zM210 162h1v2h-1zM210 166h1v2h-1zM210 170h1v2h-1zM210 174h1v2h-1zM210 178h1v2h-1zM210 182h1v2h-1zM210 186h1v2h-1zM210 190h1v2h-1zM210 194h1v2h-1zM210 198h1v2h-1zM210 202h1v2h-1zM210 206h1v2h-1zM210 210h1v2h-1zM210 214h1v2h-1zM210 218h1v2h-1zM210 222h1v2h-1zM210 226h1v2h-1zM210 230h1v2h-1zM210 234h1v2h-1zM210 238h1v2h-1zM210 242h1v2h-1zM210 246h1v2h-1zM210 250h1v2h-1zM210 254h1v2h-1zM210 258h1v2h-1zM210 262h1v2h-1zM210 266h1v2h-1zM210 270h1v2h-1zM210 274h1v2h-1zM210 278h1v2h-1zM210 282h1v2h-1zM210 286h1v2h-1zM210 290h1v2h-1zM210 294h1v2h-1zM210 298h1v2h-1zM210 301h1v2h-1zM210 305h1v2h-1zM210 309h1v2h-1zM210 313h1v2h-1zM210 317h1v2h-1zM210 321h1v2h-1zM210 325h1v2h-1zM210 329h1v2h-1zM210 333h1v2h-1zM210 337h1v2h-1zM210 341h1v2h-1zM210 345h1v2h-1zM210 349h1v2h-1zM210 353h1v2h-1zM210 357h1v2h-1zM210 361h1v2h-1zM210 365h1v2h-1zM210 369h1v2h-1zM210 373h1v2h-1zM210 377h1v2h-1zM210 381h1v2h-1zM210 385h1v2h-1zM210 389h1v2h-1zM210 393h1v2h-1zM210 397h1v2h-1zM210 401h1v2h-1zM210 405h1v2h-1zM210 409h1v2h-1zM210 413h1v2h-1zM210 417h1v2h-1zM210 421h1v2h-1zM210 425h1v2h-1zM210 429h1v2h-1zM210 433h1v2h-1zM210 437h1v2h-1zM210 440h1v2h-1zM210 444h1v2h-1zM210 448h1v2h-1zM210 452h1v2h-1zM210 456h1v2h-1zM210 460h1v2h-1zM210 464h1v2h-1zM210 468h1v2h-1zM210 472h1v2h-1zM215 44h1v1h-1zM215 47h1v2h-1zM215 51h1v2h-1zM215 55h1v2h-1zM215 59h1v2h-1zM215 63h1v2h-1zM215 67h1v2h-1zM215 71h1v2h-1zM215 75h1v2h-1zM215 79h1v2h-1zM215 83h1v2h-1zM215 87h1v2h-1zM215 91h1v2h-1zM215 95h1v2h-1zM215 99h1v2h-1zM215 103h1v2h-1zM215 107h1v2h-1zM215 111h1v2h-1zM215 115h1v2h-1zM215 119h1v2h-1zM215 123h1v2h-1zM215 127h1v2h-1zM215 131h1v2h-1zM215 135h1v2h-1zM215 139h1v2h-1zM215 143h1v2h-1zM215 147h1v2h-1zM215 151h1v2h-1zM215 155h1v2h-1zM215 158h1v2h-1zM215 162h1v2h-1zM215 166h1v2h-1zM215 170h1v2h-1zM215 174h1v2h-1zM215 178h1v2h-1zM215 182h1v2h-1zM215 186h1v2h-1zM215 190h1v2h-1zM215 194h1v2h-1zM215 198h1v2h-1zM215 202h1v2h-1zM215 206h1v2h-1zM215 210h1v2h-1zM215 214h1v2h-1zM215 218h1v2h-1zM215 222h1v2h-1zM215 226h1v2h-1zM215 230h1v2h-1zM215 234h1v2h-1zM215 238h1v2h-1zM215 242h1v2h-1zM215 246h1v2h-1zM215 250h1v2h-1zM215 254h1v2h-1zM215 258h1v2h-1zM215 262h1v2h-1zM215 266h1v2h-1zM215 270h1v2h-1zM215 274h1v2h-1zM215 278h1v2h-1zM215 282h1v2h-1zM215 286h1v2h-1zM215 290h1v2h-1zM215 294h1v2h-1zM215 298h1v2h-1zM215 301h1v2h-1zM215 305h1v2h-1zM215 309h1v2h-1zM215 313h1v2h-1zM215 317h1v2h-1zM215 321h1v2h-1zM215 325h1v2h-1zM215 329h1v2h-1zM215 333h1v2h-1zM215 337h1v2h-1zM215 341h1v2h-1zM215 345h1v2h-1zM215 349h1v2h-1zM215 353h1v2h-1zM215 357h1v2h-1zM215 361h1v2h-1zM215 365h1v2h-1zM215 369h1v2h-1zM215 373h1v2h-1zM215 377h1v2h-1zM215 381h1v2h-1zM215 385h1v2h-1zM215 389h1v2h-1zM215 393h1v2h-1zM215 397h1v2h-1zM215 401h1v2h-1zM215 405h1v2h-1zM215 409h1v2h-1zM215 413h1v2h-1zM215 417h1v2h-1zM215 421h1v2h-1zM215 425h1v2h-1zM215 429h1v2h-1zM215 433h1v2h-1zM215 437h1v2h-1zM215 440h1v2h-1zM215 444h1v2h-1zM215 448h1v2h-1zM215 452h1v2h-1zM215 456h1v2h-1zM215 460h1v2h-1zM215 464h1v2h-1zM215 468h1v2h-1zM215 472h1v2h-1zM217 44h1v1h-1zM217 47h1v2h-1zM217 51h1v2h-1zM217 55h1v2h-1zM217 59h1v2h-1zM217 63h1v2h-1zM217 67h1v2h-1zM217 71h1v2h-1zM217 75h1v2h-1zM217 79h1v2h-1zM217 83h1v2h-1zM217 87h1v2h-1zM217 91h1v2h-1zM217 95h1v2h-1zM217 99h1v2h-1zM217 103h1v2h-1zM217 107h1v2h-1zM217 111h1v2h-1zM217 115h1v2h-1zM217 119h1v2h-1zM217 123h1v2h-1zM217 127h1v2h-1zM217 131h1v2h-1zM217 135h1v2h-1zM217 139h1v2h-1zM217 143h1v2h-1zM217 147h1v2h-1zM217 151h1v2h-1zM217 155h1v2h-1zM217 158h1v2h-1zM217 162h1v2h-1zM217 166h1v2h-1zM217 170h1v2h-1zM217 174h1v2h-1zM217 178h1v2h-1zM217 182h1v2h-1zM217 186h1v2h-1zM217 190h1v2h-1zM217 194h1v2h-1zM217 198h1v2h-1zM217 202h1v2h-1zM217 206h1v2h-1zM217 210h1v2h-1zM217 214h1v2h-1zM217 218h1v2h-1zM217 222h1v2h-1zM217 226h1v2h-1zM217 230h1v2h-1zM217 234h1v2h-1zM217 238h1v2h-1zM217 242h1v2h-1zM217 246h1v2h-1zM217 250h1v2h-1zM217 254h1v2h-1zM217 258h1v2h-1zM217 262h1v2h-1zM217 266h1v2h-1zM217 270h1v2h-1zM217 274h1v2h-1zM217 278h1v2h-1zM217 282h1v2h-1zM217 286h1v2h-1zM217 290h1v2h-1zM217 294h1v2h-1zM217 298h1v2h-1zM217 301h1v2h-1zM217 305h1v2h-1zM217 309h1v2h-1zM217 313h1v2h-1zM217 317h1v2h-1zM217 321h1v2h-1zM217 325h1v2h-1zM217 329h1v2h-1zM217 333h1v2h-1zM217 337h1v2h-1zM217 341h1v2h-1zM217 345h1v2h-1zM217 349h1v2h-1zM217 353h1v2h-1zM217 357h1v2h-1zM217 361h1v2h-1zM217 365h1v2h-1zM217 369h1v2h-1zM217 373h1v2h-1zM217 377h1v2h-1zM217 381h1v2h-1zM217 385h1v2h-1zM217 389h1v2h-1zM217 393h1v2h-1zM217 397h1v2h-1zM217 401h1v2h-1zM217 405h1v2h-1zM217 409h1v2h-1zM217 413h1v2h-1zM217 417h1v2h-1zM217 421h1v2h-1zM217 425h1v2h-1zM217 429h1v2h-1zM217 433h1v2h-1zM217 437h1v2h-1zM217 440h1v2h-1zM217 444h1v2h-1zM217 448h1v2h-1zM217 452h1v2h-1zM217 456h1v2h-1zM217 460h1v2h-1zM217 464h1v2h-1zM217 468h1v2h-1zM217 472h1v2h-1zM280 44h1v1h-1zM280 47h1v2h-1zM280 51h1v2h-1zM280 55h1v2h-1zM280 59h1v2h-1zM280 63h1v2h-1zM280 67h1v2h-1zM280 71h1v2h-1zM280 75h1v2h-1zM280 79h1v2h-1zM280 83h1v2h-1zM280 87h1v2h-1zM280 91h1v2h-1zM280 95h1v2h-1zM280 99h1v2h-1zM280 103h1v2h-1zM280 107h1v2h-1zM280 111h1v2h-1zM280 115h1v2h-1zM280 119h1v2h-1zM280 123h1v2h-1zM280 127h1v2h-1zM280 131h1v2h-1zM280 135h1v2h-1zM280 139h1v2h-1zM280 143h1v2h-1zM280 147h1v2h-1zM280 151h1v2h-1zM280 155h1v2h-1zM280 158h1v2h-1zM280 162h1v2h-1zM280 166h1v2h-1zM280 170h1v2h-1zM280 174h1v2h-1zM280 178h1v2h-1zM280 182h1v2h-1zM280 186h1v2h-1zM280 190h1v2h-1zM280 194h1v2h-1zM280 198h1v2h-1zM280 202h1v2h-1zM280 206h1v2h-1zM280 210h1v2h-1zM280 214h1v2h-1zM280 218h1v2h-1zM280 222h1v2h-1zM280 226h1v2h-1zM280 230h1v2h-1zM280 234h1v2h-1zM280 238h1v2h-1zM280 242h1v2h-1zM280 246h1v2h-1zM280 250h1v2h-1zM280 254h1v2h-1zM280 258h1v2h-1zM280 262h1v2h-1zM280 266h1v2h-1zM280 270h1v2h-1zM280 274h1v2h-1zM280 278h1v2h-1zM280 282h1v2h-1zM280 286h1v2h-1zM280 290h1v2h-1zM280 294h1v2h-1zM280 298h1v2h-1zM280 301h1v2h-1zM280 305h1v2h-1zM280 309h1v2h-1zM280 313h1v2h-1zM280 317h1v2h-1zM280 321h1v2h-1zM280 325h1v2h-1zM280 329h1v2h-1zM280 333h1v2h-1zM280 337h1v2h-1zM280 341h1v2h-1zM280 345h1v2h-1zM280 349h1v2h-1zM280 353h1v2h-1zM280 357h1v2h-1zM280 361h1v2h-1zM280 365h1v2h-1zM280 369h1v2h-1zM280 373h1v2h-1zM280 377h1v2h-1zM280 381h1v2h-1zM280 385h1v2h-1zM280 389h1v2h-1zM280 393h1v2h-1zM280 397h1v2h-1zM280 401h1v2h-1zM280 405h1v2h-1zM280 409h1v2h-1zM280 413h1v2h-1zM280 417h1v2h-1zM280 421h1v2h-1zM280 425h1v2h-1zM280 429h1v2h-1zM280 433h1v2h-1zM280 437h1v2h-1zM280 440h1v2h-1zM280 444h1v2h-1zM280 448h1v2h-1zM280 452h1v2h-1zM280 456h1v2h-1zM280 460h1v2h-1zM280 464h1v2h-1zM280 468h1v2h-1zM280 472h1v2h-1zM292 44h1v1h-1zM292 47h1v2h-1zM292 51h1v2h-1zM292 55h1v2h-1zM292 59h1v2h-1zM292 63h1v2h-1zM292 67h1v2h-1zM292 71h1v2h-1zM292 75h1v2h-1zM292 79h1v2h-1zM292 83h1v2h-1zM292 87h1v2h-1zM292 91h1v2h-1zM292 95h1v2h-1zM292 99h1v2h-1zM292 103h1v2h-1zM292 107h1v2h-1zM292 111h1v2h-1zM292 115h1v2h-1zM292 119h1v2h-1zM292 123h1v2h-1zM292 127h1v2h-1zM292 131h1v2h-1zM292 135h1v2h-1zM292 139h1v2h-1zM292 143h1v2h-1zM292 147h1v2h-1zM292 151h1v2h-1zM292 155h1v2h-1zM292 158h1v2h-1zM292 162h1v2h-1zM292 166h1v2h-1zM292 170h1v2h-1zM292 174h1v2h-1zM292 178h1v2h-1zM292 182h1v2h-1zM292 186h1v2h-1zM292 190h1v2h-1zM292 194h1v2h-1zM292 198h1v2h-1zM292 202h1v2h-1zM292 206h1v2h-1zM292 210h1v2h-1zM292 214h1v2h-1zM292 218h1v2h-1zM292 222h1v2h-1zM292 226h1v2h-1zM292 230h1v2h-1zM292 234h1v2h-1zM292 238h1v2h-1zM292 242h1v2h-1zM292 246h1v2h-1zM292 250h1v2h-1zM292 254h1v2h-1zM292 258h1v2h-1zM292 262h1v2h-1zM292 266h1v2h-1zM292 270h1v2h-1zM292 274h1v2h-1zM292 278h1v2h-1zM292 282h1v2h-1zM292 286h1v2h-1zM292 290h1v2h-1zM292 294h1v2h-1zM292 298h1v2h-1zM292 301h1v2h-1zM292 305h1v2h-1zM292 309h1v2h-1zM292 313h1v2h-1zM292 317h1v2h-1zM292 321h1v2h-1zM292 325h1v2h-1zM292 329h1v2h-1zM292 333h1v2h-1zM292 337h1v2h-1zM292 341h1v2h-1zM292 345h1v2h-1zM292 349h1v2h-1zM292 353h1v2h-1zM292 357h1v2h-1zM292 361h1v2h-1zM292 365h1v2h-1zM292 369h1v2h-1zM292 373h1v2h-1zM292 377h1v2h-1zM292 381h1v2h-1zM292 385h1v2h-1zM292 389h1v2h-1zM292 393h1v2h-1zM292 397h1v2h-1zM292 401h1v2h-1zM292 405h1v2h-1zM292 409h1v2h-1zM292 413h1v2h-1zM292 417h1v2h-1zM292 421h1v2h-1zM292 425h1v2h-1zM292 429h1v2h-1zM292 433h1v2h-1zM292 437h1v2h-1zM292 440h1v2h-1zM292 444h1v2h-1zM292 448h1v2h-1zM292 452h1v2h-1zM292 456h1v2h-1zM292 460h1v2h-1zM292 464h1v2h-1zM292 468h1v2h-1zM292 472h1v2h-1zM298 44h1v1h-1zM298 47h1v2h-1zM298 51h1v2h-1zM298 55h1v2h-1zM298 59h1v2h-1zM298 63h1v2h-1zM298 67h1v2h-1zM298 71h1v2h-1zM298 75h1v2h-1zM298 79h1v2h-1zM298 83h1v2h-1zM298 87h1v2h-1zM298 91h1v2h-1zM298 95h1v2h-1zM298 99h1v2h-1zM298 103h1v2h-1zM298 107h1v2h-1zM298 111h1v2h-1zM298 115h1v2h-1zM298 119h1v2h-1zM298 123h1v2h-1zM298 127h1v2h-1zM298 131h1v2h-1zM298 135h1v2h-1zM298 139h1v2h-1zM298 143h1v2h-1zM298 147h1v2h-1zM298 151h1v2h-1zM298 155h1v2h-1zM298 158h1v2h-1zM298 162h1v2h-1zM298 166h1v2h-1zM298 170h1v2h-1zM298 174h1v2h-1zM298 178h1v2h-1zM298 182h1v2h-1zM298 186h1v2h-1zM298 190h1v2h-1zM298 194h1v2h-1zM298 198h1v2h-1zM298 202h1v2h-1zM298 206h1v2h-1zM298 210h1v2h-1zM298 214h1v2h-1zM298 218h1v2h-1zM298 222h1v2h-1zM298 226h1v2h-1zM298 230h1v2h-1zM298 234h1v2h-1zM298 238h1v2h-1zM298 242h1v2h-1zM298 246h1v2h-1zM298 250h1v2h-1zM298 254h1v2h-1zM298 258h1v2h-1zM298 262h1v2h-1zM298 266h1v2h-1zM298 270h1v2h-1zM298 274h1v2h-1zM298 278h1v2h-1zM298 282h1v2h-1zM298 286h1v2h-1zM298 290h1v2h-1zM298 294h1v2h-1zM298 298h1v2h-1zM298 301h1v2h-1zM298 305h1v2h-1zM298 309h1v2h-1zM298 313h1v2h-1zM298 317h1v2h-1zM298 321h1v2h-1zM298 325h1v2h-1zM298 329h1v2h-1zM298 333h1v2h-1zM298 337h1v2h-1zM298 341h1v2h-1zM298 345h1v2h-1zM298 349h1v2h-1zM298 353h1v2h-1zM298 357h1v2h-1zM298 361h1v2h-1zM298 365h1v2h-1zM298 369h1v2h-1zM298 373h1v2h-1zM298 377h1v2h-1zM298 381h1v2h-1zM298 385h1v2h-1zM298 389h1v2h-1zM298 393h1v2h-1zM298 397h1v2h-1zM298 401h1v2h-1zM298 405h1v2h-1zM298 409h1v2h-1zM298 413h1v2h-1zM298 417h1v2h-1zM298 421h1v2h-1zM298 425h1v2h-1zM298 429h1v2h-1zM298 433h1v2h-1zM298 437h1v2h-1zM298 440h1v2h-1zM298 444h1v2h-1zM298 448h1v2h-1zM298 452h1v2h-1zM298 456h1v2h-1zM298 460h1v2h-1zM298 464h1v2h-1zM298 468h1v2h-1zM298 472h1v2h-1zM319 44h1v1h-1zM319 47h1v2h-1zM319 51h1v2h-1zM319 55h1v2h-1zM319 59h1v2h-1zM319 63h1v2h-1zM319 67h1v2h-1zM319 71h1v2h-1zM319 75h1v2h-1zM319 79h1v2h-1zM319 83h1v2h-1zM319 87h1v2h-1zM319 91h1v2h-1zM319 95h1v2h-1zM319 99h1v2h-1zM319 103h1v2h-1zM319 107h1v2h-1zM319 111h1v2h-1zM319 115h1v2h-1zM319 119h1v2h-1zM319 123h1v2h-1zM319 127h1v2h-1zM319 131h1v2h-1zM319 135h1v2h-1zM319 139h1v2h-1zM319 143h1v2h-1zM319 147h1v2h-1zM319 151h1v2h-1zM319 155h1v2h-1zM319 158h1v2h-1zM319 162h1v2h-1zM319 166h1v2h-1zM319 170h1v2h-1zM319 174h1v2h-1zM319 178h1v2h-1zM319 182h1v2h-1zM319 186h1v2h-1zM319 190h1v2h-1zM319 194h1v2h-1zM319 198h1v2h-1zM319 202h1v2h-1zM319 206h1v2h-1zM319 210h1v2h-1zM319 214h1v2h-1zM319 218h1v2h-1zM319 222h1v2h-1zM319 226h1v2h-1zM319 230h1v2h-1zM319 234h1v2h-1zM319 238h1v2h-1zM319 242h1v2h-1zM319 246h1v2h-1zM319 250h1v2h-1zM319 254h1v2h-1zM319 258h1v2h-1zM319 262h1v2h-1zM319 266h1v2h-1zM319 270h1v2h-1zM319 274h1v2h-1zM319 278h1v2h-1zM319 282h1v2h-1zM319 286h1v2h-1zM319 290h1v2h-1zM319 294h1v2h-1zM319 298h1v2h-1zM319 301h1v2h-1zM319 305h1v2h-1zM319 309h1v2h-1zM319 313h1v2h-1zM319 317h1v2h-1zM319 321h1v2h-1zM319 325h1v2h-1zM319 329h1v2h-1zM319 333h1v2h-1zM319 337h1v2h-1zM319 341h1v2h-1zM319 345h1v2h-1zM319 349h1v2h-1zM319 353h1v2h-1zM319 357h1v2h-1zM319 361h1v2h-1zM319 365h1v2h-1zM319 369h1v2h-1zM319 373h1v2h-1zM319 377h1v2h-1zM319 381h1v2h-1zM319 385h1v2h-1zM319 389h1v2h-1zM319 393h1v2h-1zM319 397h1v2h-1zM319 401h1v2h-1zM319 405h1v2h-1zM319 409h1v2h-1zM319 413h1v2h-1zM319 417h1v2h-1zM319 421h1v2h-1zM319 425h1v2h-1zM319 429h1v2h-1zM319 433h1v2h-1zM319 437h1v2h-1zM319 440h1v2h-1zM319 444h1v2h-1zM319 448h1v2h-1zM319 452h1v2h-1zM319 456h1v2h-1zM319 460h1v2h-1zM319 464h1v2h-1zM319 468h1v2h-1zM319 472h1v2h-1zM409 44h1v1h-1zM409 47h1v2h-1zM409 51h1v2h-1zM409 55h1v2h-1zM409 59h1v2h-1zM409 63h1v2h-1zM409 67h1v2h-1zM409 71h1v2h-1zM409 75h1v2h-1zM409 79h1v2h-1zM409 83h1v2h-1zM409 87h1v2h-1zM409 91h1v2h-1zM409 95h1v2h-1zM409 99h1v2h-1zM409 103h1v2h-1zM409 107h1v2h-1zM409 111h1v2h-1zM409 115h1v2h-1zM409 119h1v2h-1zM409 123h1v2h-1zM409 127h1v2h-1zM409 131h1v2h-1zM409 135h1v2h-1zM409 139h1v2h-1zM409 143h1v2h-1zM409 147h1v2h-1zM409 151h1v2h-1zM409 155h1v2h-1zM409 158h1v2h-1zM409 162h1v2h-1zM409 166h1v2h-1zM409 170h1v2h-1zM409 174h1v2h-1zM409 178h1v2h-1zM409 182h1v2h-1zM409 186h1v2h-1zM409 190h1v2h-1zM409 194h1v2h-1zM409 198h1v2h-1zM409 202h1v2h-1zM409 206h1v2h-1zM409 210h1v2h-1zM409 214h1v2h-1zM409 218h1v2h-1zM409 222h1v2h-1zM409 226h1v2h-1zM409 230h1v2h-1zM409 234h1v2h-1zM409 238h1v2h-1zM409 242h1v2h-1zM409 246h1v2h-1zM409 250h1v2h-1zM409 254h1v2h-1zM409 258h1v2h-1zM409 262h1v2h-1zM409 266h1v2h-1zM409 270h1v2h-1zM409 274h1v2h-1zM409 278h1v2h-1zM409 282h1v2h-1zM409 286h1v2h-1zM409 290h1v2h-1zM409 294h1v2h-1zM409 298h1v2h-1zM409 301h1v2h-1zM409 305h1v2h-1zM409 309h1v2h-1zM409 313h1v2h-1zM409 317h1v2h-1zM409 321h1v2h-1zM409 325h1v2h-1zM409 329h1v2h-1zM409 333h1v2h-1zM409 337h1v2h-1zM409 341h1v2h-1zM409 345h1v2h-1zM409 349h1v2h-1zM409 353h1v2h-1zM409 357h1v2h-1zM409 361h1v2h-1zM409 365h1v2h-1zM409 369h1v2h-1zM409 373h1v2h-1zM409 377h1v2h-1zM409 381h1v2h-1zM409 385h1v2h-1zM409 389h1v2h-1zM409 393h1v2h-1zM409 397h1v2h-1zM409 401h1v2h-1zM409 405h1v2h-1zM409 409h1v2h-1zM409 413h1v2h-1zM409 417h1v2h-1zM409 421h1v2h-1zM409 425h1v2h-1zM409 429h1v2h-1zM409 433h1v2h-1zM409 437h1v2h-1zM409 440h1v2h-1zM409 444h1v2h-1zM409 448h1v2h-1zM409 452h1v2h-1zM409 456h1v2h-1zM409 460h1v2h-1zM409 464h1v2h-1zM409 468h1v2h-1zM409 472h1v2h-1zM460 44h1v1h-1zM460 47h1v2h-1zM460 51h1v2h-1zM460 55h1v2h-1zM460 59h1v2h-1zM460 63h1v2h-1zM460 67h1v2h-1zM460 71h1v2h-1zM460 75h1v2h-1zM460 79h1v2h-1zM460 83h1v2h-1zM460 87h1v2h-1zM460 91h1v2h-1zM460 95h1v2h-1zM460 99h1v2h-1zM460 103h1v2h-1zM460 107h1v2h-1zM460 111h1v2h-1zM460 115h1v2h-1zM460 119h1v2h-1zM460 123h1v2h-1zM460 127h1v2h-1zM460 131h1v2h-1zM460 135h1v2h-1zM460 139h1v2h-1zM460 143h1v2h-1zM460 147h1v2h-1zM460 151h1v2h-1zM460 155h1v2h-1zM460 158h1v2h-1zM460 162h1v2h-1zM460 166h1v2h-1zM460 170h1v2h-1zM460 174h1v2h-1zM460 178h1v2h-1zM460 182h1v2h-1zM460 186h1v2h-1zM460 190h1v2h-1zM460 194h1v2h-1zM460 198h1v2h-1zM460 202h1v2h-1zM460 206h1v2h-1zM460 210h1v2h-1zM460 214h1v2h-1zM460 218h1v2h-1zM460 222h1v2h-1zM460 226h1v2h-1zM460 230h1v2h-1zM460 234h1v2h-1zM460 238h1v2h-1zM460 242h1v2h-1zM460 246h1v2h-1zM460 250h1v2h-1zM460 254h1v2h-1zM460 258h1v2h-1zM460 262h1v2h-1zM460 266h1v2h-1zM460 270h1v2h-1zM460 274h1v2h-1zM460 278h1v2h-1zM460 282h1v2h-1zM460 286h1v2h-1zM460 290h1v2h-1zM460 294h1v2h-1zM460 298h1v2h-1zM460 301h1v2h-1zM460 305h1v2h-1zM460 309h1v2h-1zM460 313h1v2h-1zM460 317h1v2h-1zM460 321h1v2h-1zM460 325h1v2h-1zM460 329h1v2h-1zM460 333h1v2h-1zM460 337h1v2h-1zM460 341h1v2h-1zM460 345h1v2h-1zM460 349h1v2h-1zM460 353h1v2h-1zM460 357h1v2h-1zM460 361h1v2h-1zM460 365h1v2h-1zM460 369h1v2h-1zM460 373h1v2h-1zM460 377h1v2h-1zM460 381h1v2h-1zM460 385h1v2h-1zM460 389h1v2h-1zM460 393h1v2h-1zM460 397h1v2h-1zM460 401h1v2h-1zM460 405h1v2h-1zM460 409h1v2h-1zM460 413h1v2h-1zM460 417h1v2h-1zM460 421h1v2h-1zM460 425h1v2h-1zM460 429h1v2h-1zM460 433h1v2h-1zM460 437h1v2h-1zM460 440h1v2h-1zM460 444h1v2h-1zM460 448h1v2h-1zM460 452h1v2h-1zM460 456h1v2h-1zM460 460h1v2h-1zM460 464h1v2h-1zM460 468h1v2h-1zM460 472h1v2h-1zM468 44h1v1h-1zM468 47h1v2h-1zM468 51h1v2h-1zM468 55h1v2h-1zM468 59h1v2h-1zM468 63h1v2h-1zM468 67h1v2h-1zM468 71h1v2h-1zM468 75h1v2h-1zM468 79h1v2h-1zM468 83h1v2h-1zM468 87h1v2h-1zM468 91h1v2h-1zM468 95h1v2h-1zM468 99h1v2h-1zM468 103h1v2h-1zM468 107h1v2h-1zM468 111h1v2h-1zM468 115h1v2h-1zM468 119h1v2h-1zM468 123h1v2h-1zM468 127h1v2h-1zM468 131h1v2h-1zM468 135h1v2h-1zM468 139h1v2h-1zM468 143h1v2h-1zM468 147h1v2h-1zM468 151h1v2h-1zM468 155h1v2h-1zM468 158h1v2h-1zM468 162h1v2h-1zM468 166h1v2h-1zM468 170h1v2h-1zM468 174h1v2h-1zM468 178h1v2h-1zM468 182h1v2h-1zM468 186h1v2h-1zM468 190h1v2h-1zM468 194h1v2h-1zM468 198h1v2h-1zM468 202h1v2h-1zM468 206h1v2h-1zM468 210h1v2h-1zM468 214h1v2h-1zM468 218h1v2h-1zM468 222h1v2h-1zM468 226h1v2h-1zM468 230h1v2h-1zM468 234h1v2h-1zM468 238h1v2h-1zM468 242h1v2h-1zM468 246h1v2h-1zM468 250h1v2h-1zM468 254h1v2h-1zM468 258h1v2h-1zM468 262h1v2h-1zM468 266h1v2h-1zM468 270h1v2h-1zM468 274h1v2h-1zM468 278h1v2h-1zM468 282h1v2h-1zM468 286h1v2h-1zM468 290h1v2h-1zM468 294h1v2h-1zM468 298h1v2h-1zM468 301h1v2h-1zM468 305h1v2h-1zM468 309h1v2h-1zM468 313h1v2h-1zM468 317h1v2h-1zM468 321h1v2h-1zM468 325h1v2h-1zM468 329h1v2h-1zM468 333h1v2h-1zM468 337h1v2h-1zM468 341h1v2h-1zM468 345h1v2h-1zM468 349h1v2h-1zM468 353h1v2h-1zM468 357h1v2h-1zM468 361h1v2h-1zM468 365h1v2h-1zM468 369h1v2h-1zM468 373h1v2h-1zM468 377h1v2h-1zM468 381h1v2h-1zM468 385h1v2h-1zM468 389h1v2h-1zM468 393h1v2h-1zM468 397h1v2h-1zM468 401h1v2h-1zM468 405h1v2h-1zM468 409h1v2h-1zM468 413h1v2h-1zM468 417h1v2h-1zM468 421h1v2h-1zM468 425h1v2h-1zM468 429h1v2h-1zM468 433h1v2h-1zM468 437h1v2h-1zM468 440h1v2h-1zM468 444h1v2h-1zM468 448h1v2h-1zM468 452h1v2h-1zM468 456h1v2h-1zM468 460h1v2h-1zM468 464h1v2h-1zM468 468h1v2h-1zM468 472h1v2h-1zM491 44h1v1h-1zM491 47h1v2h-1zM491 51h1v2h-1zM491 55h1v2h-1zM491 59h1v2h-1zM491 63h1v2h-1zM491 67h1v2h-1zM491 71h1v2h-1zM491 75h1v2h-1zM491 79h1v2h-1zM491 83h1v2h-1zM491 87h1v2h-1zM491 91h1v2h-1zM491 95h1v2h-1zM491 99h1v2h-1zM491 103h1v2h-1zM491 107h1v2h-1zM491 111h1v2h-1zM491 115h1v2h-1zM491 119h1v2h-1zM491 123h1v2h-1zM491 127h1v2h-1zM491 131h1v2h-1zM491 135h1v2h-1zM491 139h1v2h-1zM491 143h1v2h-1zM491 147h1v2h-1zM491 151h1v2h-1zM491 155h1v2h-1zM491 158h1v2h-1zM491 162h1v2h-1zM491 166h1v2h-1zM491 170h1v2h-1zM491 174h1v2h-1zM491 178h1v2h-1zM491 182h1v2h-1zM491 186h1v2h-1zM491 190h1v2h-1zM491 194h1v2h-1zM491 198h1v2h-1zM491 202h1v2h-1zM491 206h1v2h-1zM491 210h1v2h-1zM491 214h1v2h-1zM491 218h1v2h-1zM491 222h1v2h-1zM491 226h1v2h-1zM491 230h1v2h-1zM491 234h1v2h-1zM491 238h1v2h-1zM491 242h1v2h-1zM491 246h1v2h-1zM491 250h1v2h-1zM491 254h1v2h-1zM491 258h1v2h-1zM491 262h1v2h-1zM491 266h1v2h-1zM491 270h1v2h-1zM491 274h1v2h-1zM491 278h1v2h-1zM491 282h1v2h-1zM491 286h1v2h-1zM491 290h1v2h-1zM491 294h1v2h-1zM491 298h1v2h-1zM491 301h1v2h-1zM491 305h1v2h-1zM491 309h1v2h-1zM491 313h1v2h-1zM491 317h1v2h-1zM491 321h1v2h-1zM491 325h1v2h-1zM491 329h1v2h-1zM491 333h1v2h-1zM491 337h1v2h-1zM491 341h1v2h-1zM491 345h1v2h-1zM491 349h1v2h-1zM491 353h1v2h-1zM491 357h1v2h-1zM491 361h1v2h-1zM491 365h1v2h-1zM491 369h1v2h-1zM491 373h1v2h-1zM491 377h1v2h-1zM491 381h1v2h-1zM491 385h1v2h-1zM491 389h1v2h-1zM491 393h1v2h-1zM491 397h1v2h-1zM491 401h1v2h-1zM491 405h1v2h-1zM491 409h1v2h-1zM491 413h1v2h-1zM491 417h1v2h-1zM491 421h1v2h-1zM491 425h1v2h-1zM491 429h1v2h-1zM491 433h1v2h-1zM491 437h1v2h-1zM491 440h1v2h-1zM491 444h1v2h-1zM491 448h1v2h-1zM491 452h1v2h-1zM491 456h1v2h-1zM491 460h1v2h-1zM491 464h1v2h-1zM491 468h1v2h-1zM491 472h1v2h-1zM492 44h1v1h-1zM492 47h1v2h-1zM492 51h1v2h-1zM492 55h1v2h-1zM492 59h1v2h-1zM492 63h1v2h-1zM492 67h1v2h-1zM492 71h1v2h-1zM492 75h1v2h-1zM492 79h1v2h-1zM492 83h1v2h-1zM492 87h1v2h-1zM492 91h1v2h-1zM492 95h1v2h-1zM492 99h1v2h-1zM492 103h1v2h-1zM492 107h1v2h-1zM492 111h1v2h-1zM492 115h1v2h-1zM492 119h1v2h-1zM492 123h1v2h-1zM492 127h1v2h-1zM492 131h1v2h-1zM492 135h1v2h-1zM492 139h1v2h-1zM492 143h1v2h-1zM492 147h1v2h-1zM492 151h1v2h-1zM492 155h1v2h-1zM492 158h1v2h-1zM492 162h1v2h-1zM492 166h1v2h-1zM492 170h1v2h-1zM492 174h1v2h-1zM492 178h1v2h-1zM492 182h1v2h-1zM492 186h1v2h-1zM492 190h1v2h-1zM492 194h1v2h-1zM492 198h1v2h-1zM492 202h1v2h-1zM492 206h1v2h-1zM492 210h1v2h-1zM492 214h1v2h-1zM492 218h1v2h-1zM492 222h1v2h-1zM492 226h1v2h-1zM492 230h1v2h-1zM492 234h1v2h-1zM492 238h1v2h-1zM492 242h1v2h-1zM492 246h1v2h-1zM492 250h1v2h-1zM492 254h1v2h-1zM492 258h1v2h-1zM492 262h1v2h-1zM492 266h1v2h-1zM492 270h1v2h-1zM492 274h1v2h-1zM492 278h1v2h-1zM492 282h1v2h-1zM492 286h1v2h-1zM492 290h1v2h-1zM492 294h1v2h-1zM492 298h1v2h-1zM492 301h1v2h-1zM492 305h1v2h-1zM492 309h1v2h-1zM492 313h1v2h-1zM492 317h1v2h-1zM492 321h1v2h-1zM492 325h1v2h-1zM492 329h1v2h-1zM492 333h1v2h-1zM492 337h1v2h-1zM492 341h1v2h-1zM492 345h1v2h-1zM492 349h1v2h-1zM492 353h1v2h-1zM492 357h1v2h-1zM492 361h1v2h-1zM492 365h1v2h-1zM492 369h1v2h-1zM492 373h1v2h-1zM492 377h1v2h-1zM492 381h1v2h-1zM492 385h1v2h-1zM492 389h1v2h-1zM492 393h1v2h-1zM492 397h1v2h-1zM492 401h1v2h-1zM492 405h1v2h-1zM492 409h1v2h-1zM492 413h1v2h-1zM492 417h1v2h-1zM492 421h1v2h-1zM492 425h1v2h-1zM492 429h1v2h-1zM492 433h1v2h-1zM492 437h1v2h-1zM492 440h1v2h-1zM492 444h1v2h-1zM492 448h1v2h-1zM492 452h1v2h-1zM492 456h1v2h-1zM492 460h1v2h-1zM492 464h1v2h-1zM492 468h1v2h-1zM492 472h1v2h-1zM495 44h1v1h-1zM495 47h1v2h-1zM495 51h1v2h-1zM495 55h1v2h-1zM495 59h1v2h-1zM495 63h1v2h-1zM495 67h1v2h-1zM495 71h1v2h-1zM495 75h1v2h-1zM495 79h1v2h-1zM495 83h1v2h-1zM495 87h1v2h-1zM495 91h1v2h-1zM495 95h1v2h-1zM495 99h1v2h-1zM495 103h1v2h-1zM495 107h1v2h-1zM495 111h1v2h-1zM495 115h1v2h-1zM495 119h1v2h-1zM495 123h1v2h-1zM495 127h1v2h-1zM495 131h1v2h-1zM495 135h1v2h-1zM495 139h1v2h-1zM495 143h1v2h-1zM495 147h1v2h-1zM495 151h1v2h-1zM495 155h1v2h-1zM495 158h1v2h-1zM495 162h1v2h-1zM495 166h1v2h-1zM495 170h1v2h-1zM495 174h1v2h-1zM495 178h1v2h-1zM495 182h1v2h-1zM495 186h1v2h-1zM495 190h1v2h-1zM495 194h1v2h-1zM495 198h1v2h-1zM495 202h1v2h-1zM495 206h1v2h-1zM495 210h1v2h-1zM495 214h1v2h-1zM495 218h1v2h-1zM495 222h1v2h-1zM495 226h1v2h-1zM495 230h1v2h-1zM495 234h1v2h-1zM495 238h1v2h-1zM495 242h1v2h-1zM495 246h1v2h-1zM495 250h1v2h-1zM495 254h1v2h-1zM495 258h1v2h-1zM495 262h1v2h-1zM495 266h1v2h-1zM495 270h1v2h-1zM495 274h1v2h-1zM495 278h1v2h-1zM495 282h1v2h-1zM495 286h1v2h-1zM495 290h1v2h-1zM495 294h1v2h-1zM495 298h1v2h-1zM495 301h1v2h-1zM495 305h1v2h-1zM495 309h1v2h-1zM495 313h1v2h-1zM495 317h1v2h-1zM495 321h1v2h-1zM495 325h1v2h-1zM495 329h1v2h-1zM495 333h1v2h-1zM495 337h1v2h-1zM495 341h1v2h-1zM495 345h1v2h-1zM495 349h1v2h-1zM495 353h1v2h-1zM495 357h1v2h-1zM495 361h1v2h-1zM495 365h1v2h-1zM495 369h1v2h-1zM495 373h1v2h-1zM495 377h1v2h-1zM495 381h1v2h-1zM495 385h1v2h-1zM495 389h1v2h-1zM495 393h1v2h-1zM495 397h1v2h-1zM495 401h1v2h-1zM495 405h1v2h-1zM495 409h1v2h-1zM495 413h1v2h-1zM495 417h1v2h-1zM495 421h1v2h-1zM495 425h1v2h-1zM495 429h1v2h-1zM495 433h1v2h-1zM495 437h1v2h-1zM495 440h1v2h-1zM495 444h1v2h-1zM495 448h1v2h-1zM495 452h1v2h-1zM495 456h1v2h-1zM495 460h1v2h-1zM495 464h1v2h-1zM495 468h1v2h-1zM495 472h1v2h-1zM510 44h1v1h-1zM510 47h1v2h-1zM510 51h1v2h-1zM510 55h1v2h-1zM510 59h1v2h-1zM510 63h1v2h-1zM510 67h1v2h-1zM510 71h1v2h-1zM510 75h1v2h-1zM510 79h1v2h-1zM510 83h1v2h-1zM510 87h1v2h-1zM510 91h1v2h-1zM510 95h1v2h-1zM510 99h1v2h-1zM510 103h1v2h-1zM510 107h1v2h-1zM510 111h1v2h-1zM510 115h1v2h-1zM510 119h1v2h-1zM510 123h1v2h-1zM510 127h1v2h-1zM510 131h1v2h-1zM510 135h1v2h-1zM510 139h1v2h-1zM510 143h1v2h-1zM510 147h1v2h-1zM510 151h1v2h-1zM510 155h1v2h-1zM510 158h1v2h-1zM510 162h1v2h-1zM510 166h1v2h-1zM510 170h1v2h-1zM510 174h1v2h-1zM510 178h1v2h-1zM510 182h1v2h-1zM510 186h1v2h-1zM510 190h1v2h-1zM510 194h1v2h-1zM510 198h1v2h-1zM510 202h1v2h-1zM510 206h1v2h-1zM510 210h1v2h-1zM510 214h1v2h-1zM510 218h1v2h-1zM510 222h1v2h-1zM510 226h1v2h-1zM510 230h1v2h-1zM510 234h1v2h-1zM510 238h1v2h-1zM510 242h1v2h-1zM510 246h1v2h-1zM510 250h1v2h-1zM510 254h1v2h-1zM510 258h1v2h-1zM510 262h1v2h-1zM510 266h1v2h-1zM510 270h1v2h-1zM510 274h1v2h-1zM510 278h1v2h-1zM510 282h1v2h-1zM510 286h1v2h-1zM510 290h1v2h-1zM510 294h1v2h-1zM510 298h1v2h-1zM510 301h1v2h-1zM510 305h1v2h-1zM510 309h1v2h-1zM510 313h1v2h-1zM510 317h1v2h-1zM510 321h1v2h-1zM510 325h1v2h-1zM510 329h1v2h-1zM510 333h1v2h-1zM510 337h1v2h-1zM510 341h1v2h-1zM510 345h1v2h-1zM510 349h1v2h-1zM510 353h1v2h-1zM510 357h1v2h-1zM510 361h1v2h-1zM510 365h1v2h-1zM510 369h1v2h-1zM510 373h1v2h-1zM510 377h1v2h-1zM510 381h1v2h-1zM510 385h1v2h-1zM510 389h1v2h-1zM510 393h1v2h-1zM510 397h1v2h-1zM510 401h1v2h-1zM510 405h1v2h-1zM510 409h1v2h-1zM510 413h1v2h-1zM510 417h1v2h-1zM510 421h1v2h-1zM510 425h1v2h-1zM510 429h1v2h-1zM510 433h1v2h-1zM510 437h1v2h-1zM510 440h1v2h-1zM510 444h1v2h-1zM510 448h1v2h-1zM510 452h1v2h-1zM510 456h1v2h-1zM510 460h1v2h-1zM510 464h1v2h-1zM510 468h1v2h-1zM510 472h1v2h-1zM512 44h1v1h-1zM512 47h1v2h-1zM512 51h1v2h-1zM512 55h1v2h-1zM512 59h1v2h-1zM512 63h1v2h-1zM512 67h1v2h-1zM512 71h1v2h-1zM512 75h1v2h-1zM512 79h1v2h-1zM512 83h1v2h-1zM512 87h1v2h-1zM512 91h1v2h-1zM512 95h1v2h-1zM512 99h1v2h-1zM512 103h1v2h-1zM512 107h1v2h-1zM512 111h1v2h-1zM512 115h1v2h-1zM512 119h1v2h-1zM512 123h1v2h-1zM512 127h1v2h-1zM512 131h1v2h-1zM512 135h1v2h-1zM512 139h1v2h-1zM512 143h1v2h-1zM512 147h1v2h-1zM512 151h1v2h-1zM512 155h1v2h-1zM512 158h1v2h-1zM512 162h1v2h-1zM512 166h1v2h-1zM512 170h1v2h-1zM512 174h1v2h-1zM512 178h1v2h-1zM512 182h1v2h-1zM512 186h1v2h-1zM512 190h1v2h-1zM512 194h1v2h-1zM512 198h1v2h-1zM512 202h1v2h-1zM512 206h1v2h-1zM512 210h1v2h-1zM512 214h1v2h-1zM512 218h1v2h-1zM512 222h1v2h-1zM512 226h1v2h-1zM512 230h1v2h-1zM512 234h1v2h-1zM512 238h1v2h-1zM512 242h1v2h-1zM512 246h1v2h-1zM512 250h1v2h-1zM512 254h1v2h-1zM512 258h1v2h-1zM512 262h1v2h-1zM512 266h1v2h-1zM512 270h1v2h-1zM512 274h1v2h-1zM512 278h1v2h-1zM512 282h1v2h-1zM512 286h1v2h-1zM512 290h1v2h-1zM512 294h1v2h-1zM512 298h1v2h-1zM512 301h1v2h-1zM512 305h1v2h-1zM512 309h1v2h-1zM512 313h1v2h-1zM512 317h1v2h-1zM512 321h1v2h-1zM512 325h1v2h-1zM512 329h1v2h-1zM512 333h1v2h-1zM512 337h1v2h-1zM512 341h1v2h-1zM512 345h1v2h-1zM512 349h1v2h-1zM512 353h1v2h-1zM512 357h1v2h-1zM512 361h1v2h-1zM512 365h1v2h-1zM512 369h1v2h-1zM512 373h1v2h-1zM512 377h1v2h-1zM512 381h1v2h-1zM512 385h1v2h-1zM512 389h1v2h-1zM512 393h1v2h-1zM512 397h1v2h-1zM512 401h1v2h-1zM512 405h1v2h-1zM512 409h1v2h-1zM512 413h1v2h-1zM512 417h1v2h-1zM512 421h1v2h-1zM512 425h1v2h-1zM512 429h1v2h-1zM512 433h1v2h-1zM512 437h1v2h-1zM512 440h1v2h-1zM512 444h1v2h-1zM512 448h1v2h-1zM512 452h1v2h-1zM512 456h1v2h-1zM512 460h1v2h-1zM512 464h1v2h-1zM512 468h1v2h-1zM512 472h1v2h-1zM513 44h1v1h-1zM513 47h1v2h-1zM513 51h1v2h-1zM513 55h1v2h-1zM513 59h1v2h-1zM513 63h1v2h-1zM513 67h1v2h-1zM513 71h1v2h-1zM513 75h1v2h-1zM513 79h1v2h-1zM513 83h1v2h-1zM513 87h1v2h-1zM513 91h1v2h-1zM513 95h1v2h-1zM513 99h1v2h-1zM513 103h1v2h-1zM513 107h1v2h-1zM513 111h1v2h-1zM513 115h1v2h-1zM513 119h1v2h-1zM513 123h1v2h-1zM513 127h1v2h-1zM513 131h1v2h-1zM513 135h1v2h-1zM513 139h1v2h-1zM513 143h1v2h-1zM513 147h1v2h-1zM513 151h1v2h-1zM513 155h1v2h-1zM513 158h1v2h-1zM513 162h1v2h-1zM513 166h1v2h-1zM513 170h1v2h-1zM513 174h1v2h-1zM513 178h1v2h-1zM513 182h1v2h-1zM513 186h1v2h-1zM513 190h1v2h-1zM513 194h1v2h-1zM513 198h1v2h-1zM513 202h1v2h-1zM513 206h1v2h-1zM513 210h1v2h-1zM513 214h1v2h-1zM513 218h1v2h-1zM513 222h1v2h-1zM513 226h1v2h-1zM513 230h1v2h-1zM513 234h1v2h-1zM513 238h1v2h-1zM513 242h1v2h-1zM513 246h1v2h-1zM513 250h1v2h-1zM513 254h1v2h-1zM513 258h1v2h-1zM513 262h1v2h-1zM513 266h1v2h-1zM513 270h1v2h-1zM513 274h1v2h-1zM513 278h1v2h-1zM513 282h1v2h-1zM513 286h1v2h-1zM513 290h1v2h-1zM513 294h1v2h-1zM513 298h1v2h-1zM513 301h1v2h-1zM513 305h1v2h-1zM513 309h1v2h-1zM513 313h1v2h-1zM513 317h1v2h-1zM513 321h1v2h-1zM513 325h1v2h-1zM513 329h1v2h-1zM513 333h1v2h-1zM513 337h1v2h-1zM513 341h1v2h-1zM513 345h1v2h-1zM513 349h1v2h-1zM513 353h1v2h-1zM513 357h1v2h-1zM513 361h1v2h-1zM513 365h1v2h-1zM513 369h1v2h-1zM513 373h1v2h-1zM513 377h1v2h-1zM513 381h1v2h-1zM513 385h1v2h-1zM513 389h1v2h-1zM513 393h1v2h-1zM513 397h1v2h-1zM513 401h1v2h-1zM513 405h1v2h-1zM513 409h1v2h-1zM513 413h1v2h-1zM513 417h1v2h-1zM513 421h1v2h-1zM513 425h1v2h-1zM513 429h1v2h-1zM513 433h1v2h-1zM513 437h1v2h-1zM513 440h1v2h-1zM513 444h1v2h-1zM513 448h1v2h-1zM513 452h1v2h-1zM513 456h1v2h-1zM513 460h1v2h-1zM513 464h1v2h-1zM513 468h1v2h-1zM513 472h1v2h-1zM734 44h1v1h-1zM734 47h1v2h-1zM734 51h1v2h-1zM734 55h1v2h-1zM734 59h1v2h-1zM734 63h1v2h-1zM734 67h1v2h-1zM734 71h1v2h-1zM734 75h1v2h-1zM734 79h1v2h-1zM734 83h1v2h-1zM734 87h1v2h-1zM734 91h1v2h-1zM734 95h1v2h-1zM734 99h1v2h-1zM734 103h1v2h-1zM734 107h1v2h-1zM734 111h1v2h-1zM734 115h1v2h-1zM734 119h1v2h-1zM734 123h1v2h-1zM734 127h1v2h-1zM734 131h1v2h-1zM734 135h1v2h-1zM734 139h1v2h-1zM734 143h1v2h-1zM734 147h1v2h-1zM734 151h1v2h-1zM734 155h1v2h-1zM734 158h1v2h-1zM734 162h1v2h-1zM734 166h1v2h-1zM734 170h1v2h-1zM734 174h1v2h-1zM734 178h1v2h-1zM734 182h1v2h-1zM734 186h1v2h-1zM734 190h1v2h-1zM734 194h1v2h-1zM734 198h1v2h-1zM734 202h1v2h-1zM734 206h1v2h-1zM734 210h1v2h-1zM734 214h1v2h-1zM734 218h1v2h-1zM734 222h1v2h-1zM734 226h1v2h-1zM734 230h1v2h-1zM734 234h1v2h-1zM734 238h1v2h-1zM734 242h1v2h-1zM734 246h1v2h-1zM734 250h1v2h-1zM734 254h1v2h-1zM734 258h1v2h-1zM734 262h1v2h-1zM734 266h1v2h-1zM734 270h1v2h-1zM734 274h1v2h-1zM734 278h1v2h-1zM734 282h1v2h-1zM734 286h1v2h-1zM734 290h1v2h-1zM734 294h1v2h-1zM734 298h1v2h-1zM734 301h1v2h-1zM734 305h1v2h-1zM734 309h1v2h-1zM734 313h1v2h-1zM734 317h1v2h-1zM734 321h1v2h-1zM734 325h1v2h-1zM734 329h1v2h-1zM734 333h1v2h-1zM734 337h1v2h-1zM734 341h1v2h-1zM734 345h1v2h-1zM734 349h1v2h-1zM734 353h1v2h-1zM734 357h1v2h-1zM734 361h1v2h-1zM734 365h1v2h-1zM734 369h1v2h-1zM734 373h1v2h-1zM734 377h1v2h-1zM734 381h1v2h-1zM734 385h1v2h-1zM734 389h1v2h-1zM734 393h1v2h-1zM734 397h1v2h-1zM734 401h1v2h-1zM734 405h1v2h-1zM734 409h1v2h-1zM734 413h1v2h-1zM734 417h1v2h-1zM734 421h1v2h-1zM734 425h1v2h-1zM734 429h1v2h-1zM734 433h1v2h-1zM734 437h1v2h-1zM734 440h1v2h-1zM734 444h1v2h-1zM734 448h1v2h-1zM734 452h1v2h-1zM734 456h1v2h-1zM734 460h1v2h-1zM734 464h1v2h-1zM734 468h1v2h-1zM734 472h1v2h-1zM740 44h1v1h-1zM740 47h1v2h-1zM740 51h1v2h-1zM740 55h1v2h-1zM740 59h1v2h-1zM740 63h1v2h-1zM740 67h1v2h-1zM740 71h1v2h-1zM740 75h1v2h-1zM740 79h1v2h-1zM740 83h1v2h-1zM740 87h1v2h-1zM740 91h1v2h-1zM740 95h1v2h-1zM740 99h1v2h-1zM740 103h1v2h-1zM740 107h1v2h-1zM740 111h1v2h-1zM740 115h1v2h-1zM740 119h1v2h-1zM740 123h1v2h-1zM740 127h1v2h-1zM740 131h1v2h-1zM740 135h1v2h-1zM740 139h1v2h-1zM740 143h1v2h-1zM740 147h1v2h-1zM740 151h1v2h-1zM740 155h1v2h-1zM740 158h1v2h-1zM740 162h1v2h-1zM740 166h1v2h-1zM740 170h1v2h-1zM740 174h1v2h-1zM740 178h1v2h-1zM740 182h1v2h-1zM740 186h1v2h-1zM740 190h1v2h-1zM740 194h1v2h-1zM740 198h1v2h-1zM740 202h1v2h-1zM740 206h1v2h-1zM740 210h1v2h-1zM740 214h1v2h-1zM740 218h1v2h-1zM740 222h1v2h-1zM740 226h1v2h-1zM740 230h1v2h-1zM740 234h1v2h-1zM740 238h1v2h-1zM740 242h1v2h-1zM740 246h1v2h-1zM740 250h1v2h-1zM740 254h1v2h-1zM740 258h1v2h-1zM740 262h1v2h-1zM740 266h1v2h-1zM740 270h1v2h-1zM740 274h1v2h-1zM740 278h1v2h-1zM740 282h1v2h-1zM740 286h1v2h-1zM740 290h1v2h-1zM740 294h1v2h-1zM740 298h1v2h-1zM740 301h1v2h-1zM740 305h1v2h-1zM740 309h1v2h-1zM740 313h1v2h-1zM740 317h1v2h-1zM740 321h1v2h-1zM740 325h1v2h-1zM740 329h1v2h-1zM740 333h1v2h-1zM740 337h1v2h-1zM740 341h1v2h-1zM740 345h1v2h-1zM740 349h1v2h-1zM740 353h1v2h-1zM740 357h1v2h-1zM740 361h1v2h-1zM740 365h1v2h-1zM740 369h1v2h-1zM740 373h1v2h-1zM740 377h1v2h-1zM740 381h1v2h-1zM740 385h1v2h-1zM740 389h1v2h-1zM740 393h1v2h-1zM740 397h1v2h-1zM740 401h1v2h-1zM740 405h1v2h-1zM740 409h1v2h-1zM740 413h1v2h-1zM740 417h1v2h-1zM740 421h1v2h-1zM740 425h1v2h-1zM740 429h1v2h-1zM740 433h1v2h-1zM740 437h1v2h-1zM740 440h1v2h-1zM740 444h1v2h-1zM740 448h1v2h-1zM740 452h1v2h-1zM740 456h1v2h-1zM740 460h1v2h-1zM740 464h1v2h-1zM740 468h1v2h-1zM740 472h1v2h-1zM755 44h1v1h-1zM755 47h1v2h-1zM755 51h1v2h-1zM755 55h1v2h-1zM755 59h1v2h-1zM755 63h1v2h-1zM755 67h1v2h-1zM755 71h1v2h-1zM755 75h1v2h-1zM755 79h1v2h-1zM755 83h1v2h-1zM755 87h1v2h-1zM755 91h1v2h-1zM755 95h1v2h-1zM755 99h1v2h-1zM755 103h1v2h-1zM755 107h1v2h-1zM755 111h1v2h-1zM755 115h1v2h-1zM755 119h1v2h-1zM755 123h1v2h-1zM755 127h1v2h-1zM755 131h1v2h-1zM755 135h1v2h-1zM755 139h1v2h-1zM755 143h1v2h-1zM755 147h1v2h-1zM755 151h1v2h-1zM755 155h1v2h-1zM755 158h1v2h-1zM755 162h1v2h-1zM755 166h1v2h-1zM755 170h1v2h-1zM755 174h1v2h-1zM755 178h1v2h-1zM755 182h1v2h-1zM755 186h1v2h-1zM755 190h1v2h-1zM755 194h1v2h-1zM755 198h1v2h-1zM755 202h1v2h-1zM755 206h1v2h-1zM755 210h1v2h-1zM755 214h1v2h-1zM755 218h1v2h-1zM755 222h1v2h-1zM755 226h1v2h-1zM755 230h1v2h-1zM755 234h1v2h-1zM755 238h1v2h-1zM755 242h1v2h-1zM755 246h1v2h-1zM755 250h1v2h-1zM755 254h1v2h-1zM755 258h1v2h-1zM755 262h1v2h-1zM755 266h1v2h-1zM755 270h1v2h-1zM755 274h1v2h-1zM755 278h1v2h-1zM755 282h1v2h-1zM755 286h1v2h-1zM755 290h1v2h-1zM755 294h1v2h-1zM755 298h1v2h-1zM755 301h1v2h-1zM755 305h1v2h-1zM755 309h1v2h-1zM755 313h1v2h-1zM755 317h1v2h-1zM755 321h1v2h-1zM755 325h1v2h-1zM755 329h1v2h-1zM755 333h1v2h-1zM755 337h1v2h-1zM755 341h1v2h-1zM755 345h1v2h-1zM755 349h1v2h-1zM755 353h1v2h-1zM755 357h1v2h-1zM755 361h1v2h-1zM755 365h1v2h-1zM755 369h1v2h-1zM755 373h1v2h-1zM755 377h1v2h-1zM755 381h1v2h-1zM755 385h1v2h-1zM755 389h1v2h-1zM755 393h1v2h-1zM755 397h1v2h-1zM755 401h1v2h-1zM755 405h1v2h-1zM755 409h1v2h-1zM755 413h1v2h-1zM755 417h1v2h-1zM755 421h1v2h-1zM755 425h1v2h-1zM755 429h1v2h-1zM755 433h1v2h-1zM755 437h1v2h-1zM755 440h1v2h-1zM755 444h1v2h-1zM755 448h1v2h-1zM755 452h1v2h-1zM755 456h1v2h-1zM755 460h1v2h-1zM755 464h1v2h-1zM755 468h1v2h-1zM755 472h1v2h-1z" fill="#b51a22" shape-rendering="crispEdges"/>
</svg>
</body></html>
